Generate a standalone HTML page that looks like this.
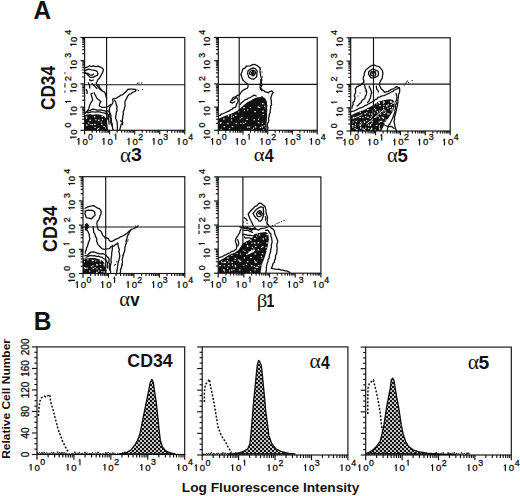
<!DOCTYPE html><html><head><meta charset="utf-8"><style>html,body{margin:0;padding:0;background:#fff;overflow:hidden}svg{display:block}</style></head><body>
<svg width="520" height="496" viewBox="0 0 520 496">
<rect width="520" height="496" fill="#fff"/>
<defs><pattern id="dots" width="4" height="4" patternUnits="userSpaceOnUse"><rect width="4" height="4" fill="#151515"/><circle cx="1" cy="1" r="0.98" fill="#fff"/><circle cx="3" cy="3" r="0.98" fill="#fff"/></pattern></defs>
<clipPath id="clP1"><rect x="84.6" y="37.5" width="100.20000000000002" height="92.80000000000001"/></clipPath>
<g clip-path="url(#clP1)"><path d="M84.60 115.50L87.00 114.60L90.00 114.30L93.00 114.80L96.00 114.20L99.00 114.60L102.00 115.20L104.50 116.50L106.00 118.50L106.80 121.50L107.30 125.00L107.80 128.00L108.30 131.00L84.60 131.00Z" fill="#111" stroke="none"/><rect x="85.7" y="116.4" width="1.5" height="1.2" fill="#fff"/><rect x="93.8" y="116.1" width="1.5" height="1.2" fill="#fff"/><rect x="101.5" y="115.7" width="1.5" height="1.2" fill="#fff"/><rect x="89.4" y="119.7" width="1.5" height="1.2" fill="#fff"/><rect x="98.0" y="119.7" width="1.5" height="1.2" fill="#fff"/><rect x="86.0" y="124.5" width="1.5" height="1.2" fill="#fff"/><rect x="94.2" y="123.8" width="1.5" height="1.2" fill="#fff"/><rect x="101.0" y="123.8" width="1.5" height="1.2" fill="#fff"/><rect x="97.7" y="128.0" width="1.5" height="1.2" fill="#fff"/><rect x="105.4" y="127.5" width="1.5" height="1.2" fill="#fff"/><rect x="86.0" y="117.7" width="1.1" height="1.1" fill="#fff"/><rect x="100.7" y="121.4" width="1.1" height="1.1" fill="#fff"/><rect x="92.0" y="124.0" width="1.1" height="1.1" fill="#fff"/><rect x="95.3" y="119.2" width="1.1" height="1.1" fill="#fff"/><rect x="103.4" y="125.9" width="1.1" height="1.1" fill="#fff"/><rect x="90.4" y="123.9" width="1.1" height="1.1" fill="#fff"/><rect x="97.0" y="128.9" width="1.1" height="1.1" fill="#fff"/><rect x="101.9" y="119.0" width="1.1" height="1.1" fill="#fff"/><rect x="94.5" y="126.9" width="1.1" height="1.1" fill="#fff"/><rect x="88.2" y="122.4" width="1.1" height="1.1" fill="#fff"/><g fill="none" stroke="#111" stroke-linejoin="round" stroke-linecap="round"><path d="M84.59 67.95L87.34 67.07L89.54 65.73L91.48 66.58L93.47 65.86L95.81 66.60L98.18 66.05L99.80 66.88L102.43 68.24L103.39 69.71L102.50 72.65L101.37 74.57L100.50 76.36L99.30 78.44L97.87 79.57L97.00 81.73L96.22 82.95L96.84 85.45L98.79 87.93L99.90 89.22L102.57 91.15L105.01 92.29L105.61 95.06L106.60 98.20" stroke-width="1.3"/><path d="M84.76 70.89L87.18 69.69L88.75 69.23L91.18 69.96L93.81 70.07L95.51 70.51L97.26 71.60L97.96 73.75L97.44 75.37L95.40 76.11L93.04 77.32L90.91 77.31L89.54 76.90L88.56 75.80L87.25 74.29L86.24 73.38L85.00 72.50" stroke-width="1.3"/><path d="M85.57 73.34L88.10 73.48L89.78 74.86L91.88 75.16L93.50 74.20" stroke-width="1.3"/><path d="M89.81 79.44L89.97 80.49L91.43 80.64L93.50 80.00" stroke-width="1.3"/><path d="M88.36 82.79L89.50 85.20L89.80 88.00" stroke-width="1.3"/><path d="M92.07 83.41L93.73 84.98L95.54 87.07L96.90 88.50" stroke-width="1.3"/><path d="M97.03 84.43L99.13 85.48L99.34 86.63L100.00 88.44L101.50 89.50" stroke-width="1.3"/><path d="M92.43 93.25L90.95 94.05L91.98 97.34L92.37 98.78L92.69 100.32L91.52 101.62L91.00 102.68L90.08 104.40L89.28 106.72L88.91 108.45L87.94 110.24L87.01 110.98L85.30 113.00" stroke-width="1.3"/><path d="M94.05 92.75L95.33 95.33L97.01 98.56L99.11 100.08L100.94 101.67L99.73 103.54L99.17 105.55L100.33 106.58L102.41 107.46L104.15 107.47L106.32 107.11L108.41 106.30L110.50 104.60" stroke-width="1.3"/><path d="M86.20 89.70L87.16 91.19L87.00 93.50" stroke-width="1.3"/><path d="M86.86 111.78L87.58 111.19L90.23 110.39L91.57 109.64L93.10 109.16L95.59 109.73L96.92 109.99L98.57 110.17L100.66 109.81L101.88 110.11L103.47 110.68L105.08 110.83L106.87 112.57L108.37 114.96L108.73 117.36L108.73 119.38L108.87 120.70L108.95 121.90L109.00 124.00" stroke-width="1.3"/><path d="M86.95 112.71L88.12 112.90L89.84 112.24L91.90 111.95L93.31 111.88L95.28 112.09L96.65 111.85L98.44 111.77L100.58 112.14L102.06 112.53L105.37 113.15L106.90 115.50L107.16 117.42L107.50 119.00" stroke-width="1.3"/><path d="M107.16 110.53L108.98 111.60L110.38 113.84L110.90 115.03L110.85 117.40L111.21 118.67L110.66 120.95L110.87 122.77L111.50 125.00" stroke-width="1.3"/><path d="M112.12 125.85L112.31 124.16L111.29 122.09L111.24 119.68L110.94 118.52L109.90 116.61L109.61 114.29L109.64 111.80L109.15 109.54L109.71 107.56L110.38 106.14L111.80 104.47L112.60 103.40L113.07 101.85L112.61 99.21L114.01 98.64L116.56 98.17L117.84 97.09L119.24 96.60L120.89 95.07L122.43 94.82L124.19 93.28L124.98 92.43L126.76 90.78L127.78 89.50L129.77 89.13L132.02 89.09L135.42 89.47L135.83 90.92L133.91 91.93L132.36 92.36L131.05 93.83L129.39 94.07L127.72 96.06L126.35 98.90L124.90 101.73L124.93 103.72L125.13 105.61L124.65 107.41L124.26 109.17L123.18 111.96L123.41 114.35L122.72 116.18L122.89 117.75L122.29 119.94L122.50 123.20L121.00 124.81L120.27 128.03L119.71 129.60L119.60 131.00" stroke-width="1.3"/><path d="M114.59 100.22L115.26 101.36L115.90 102.57L116.41 105.02L117.08 106.40L116.68 108.91L117.13 110.65L116.35 112.17L116.11 114.26L115.74 116.15L115.59 118.52L116.93 121.04L117.27 124.42L117.48 125.87L117.35 127.89L117.50 131.00" stroke-width="1.3"/><path d="M112.28 126.00L112.73 129.00L113.50 131.00" stroke-width="1.3"/><path d="M120.55 120.79L122.63 122.41L122.60 124.50" stroke-width="1.3"/><rect x="137.00" y="82.70" width="1.1" height="1.1" fill="#111" stroke="none"/><rect x="138.50" y="82.50" width="1.1" height="1.1" fill="#111" stroke="none"/><rect x="141.00" y="82.40" width="1.1" height="1.1" fill="#111" stroke="none"/><rect x="142.00" y="89.00" width="1.1" height="1.1" fill="#111" stroke="none"/><rect x="138.00" y="90.00" width="1.1" height="1.1" fill="#111" stroke="none"/><rect x="136.50" y="89.30" width="1.1" height="1.1" fill="#111" stroke="none"/></g></g>
<g stroke="#111" stroke-width="1.15" fill="none"><line x1="80.40" y1="130.30" x2="84.60" y2="130.30"/><line x1="82.20" y1="123.32" x2="84.60" y2="123.32"/><line x1="82.20" y1="119.23" x2="84.60" y2="119.23"/><line x1="82.20" y1="116.33" x2="84.60" y2="116.33"/><line x1="82.20" y1="114.08" x2="84.60" y2="114.08"/><line x1="82.20" y1="112.25" x2="84.60" y2="112.25"/><line x1="82.20" y1="110.69" x2="84.60" y2="110.69"/><line x1="82.20" y1="109.35" x2="84.60" y2="109.35"/><line x1="82.20" y1="108.16" x2="84.60" y2="108.16"/><line x1="80.40" y1="107.10" x2="84.60" y2="107.10"/><line x1="82.20" y1="100.12" x2="84.60" y2="100.12"/><line x1="82.20" y1="96.03" x2="84.60" y2="96.03"/><line x1="82.20" y1="93.13" x2="84.60" y2="93.13"/><line x1="82.20" y1="90.88" x2="84.60" y2="90.88"/><line x1="82.20" y1="89.05" x2="84.60" y2="89.05"/><line x1="82.20" y1="87.49" x2="84.60" y2="87.49"/><line x1="82.20" y1="86.15" x2="84.60" y2="86.15"/><line x1="82.20" y1="84.96" x2="84.60" y2="84.96"/><line x1="80.40" y1="83.90" x2="84.60" y2="83.90"/><line x1="82.20" y1="76.92" x2="84.60" y2="76.92"/><line x1="82.20" y1="72.83" x2="84.60" y2="72.83"/><line x1="82.20" y1="69.93" x2="84.60" y2="69.93"/><line x1="82.20" y1="67.68" x2="84.60" y2="67.68"/><line x1="82.20" y1="65.85" x2="84.60" y2="65.85"/><line x1="82.20" y1="64.29" x2="84.60" y2="64.29"/><line x1="82.20" y1="62.95" x2="84.60" y2="62.95"/><line x1="82.20" y1="61.76" x2="84.60" y2="61.76"/><line x1="80.40" y1="60.70" x2="84.60" y2="60.70"/><line x1="82.20" y1="53.72" x2="84.60" y2="53.72"/><line x1="82.20" y1="49.63" x2="84.60" y2="49.63"/><line x1="82.20" y1="46.73" x2="84.60" y2="46.73"/><line x1="82.20" y1="44.48" x2="84.60" y2="44.48"/><line x1="82.20" y1="42.65" x2="84.60" y2="42.65"/><line x1="82.20" y1="41.09" x2="84.60" y2="41.09"/><line x1="82.20" y1="39.75" x2="84.60" y2="39.75"/><line x1="82.20" y1="38.56" x2="84.60" y2="38.56"/><line x1="80.40" y1="37.50" x2="84.60" y2="37.50"/><line x1="84.60" y1="130.30" x2="84.60" y2="134.50"/><line x1="92.14" y1="130.30" x2="92.14" y2="132.70"/><line x1="96.55" y1="130.30" x2="96.55" y2="132.70"/><line x1="99.68" y1="130.30" x2="99.68" y2="132.70"/><line x1="102.11" y1="130.30" x2="102.11" y2="132.70"/><line x1="104.09" y1="130.30" x2="104.09" y2="132.70"/><line x1="105.77" y1="130.30" x2="105.77" y2="132.70"/><line x1="107.22" y1="130.30" x2="107.22" y2="132.70"/><line x1="108.50" y1="130.30" x2="108.50" y2="132.70"/><line x1="109.65" y1="130.30" x2="109.65" y2="134.50"/><line x1="117.19" y1="130.30" x2="117.19" y2="132.70"/><line x1="121.60" y1="130.30" x2="121.60" y2="132.70"/><line x1="124.73" y1="130.30" x2="124.73" y2="132.70"/><line x1="127.16" y1="130.30" x2="127.16" y2="132.70"/><line x1="129.14" y1="130.30" x2="129.14" y2="132.70"/><line x1="130.82" y1="130.30" x2="130.82" y2="132.70"/><line x1="132.27" y1="130.30" x2="132.27" y2="132.70"/><line x1="133.55" y1="130.30" x2="133.55" y2="132.70"/><line x1="134.70" y1="130.30" x2="134.70" y2="134.50"/><line x1="142.24" y1="130.30" x2="142.24" y2="132.70"/><line x1="146.65" y1="130.30" x2="146.65" y2="132.70"/><line x1="149.78" y1="130.30" x2="149.78" y2="132.70"/><line x1="152.21" y1="130.30" x2="152.21" y2="132.70"/><line x1="154.19" y1="130.30" x2="154.19" y2="132.70"/><line x1="155.87" y1="130.30" x2="155.87" y2="132.70"/><line x1="157.32" y1="130.30" x2="157.32" y2="132.70"/><line x1="158.60" y1="130.30" x2="158.60" y2="132.70"/><line x1="159.75" y1="130.30" x2="159.75" y2="134.50"/><line x1="167.29" y1="130.30" x2="167.29" y2="132.70"/><line x1="171.70" y1="130.30" x2="171.70" y2="132.70"/><line x1="174.83" y1="130.30" x2="174.83" y2="132.70"/><line x1="177.26" y1="130.30" x2="177.26" y2="132.70"/><line x1="179.24" y1="130.30" x2="179.24" y2="132.70"/><line x1="180.92" y1="130.30" x2="180.92" y2="132.70"/><line x1="182.37" y1="130.30" x2="182.37" y2="132.70"/><line x1="183.65" y1="130.30" x2="183.65" y2="132.70"/><line x1="184.80" y1="130.30" x2="184.80" y2="134.50"/><rect x="84.60" y="37.50" width="100.20" height="92.80" fill="none"/><line x1="106.60" y1="37.50" x2="106.60" y2="130.30"/><line x1="84.60" y1="84.70" x2="184.80" y2="84.70"/></g>
<g font-family='"Liberation Sans", sans-serif' fill="#111" stroke="#111" stroke-width="0.3"><g transform="translate(84.60,144.70)"><path d="M-5.75 0.00V-6.62" stroke="#111" stroke-width="1.25" fill="none"/><path d="M-5.75 -6.32L-7.38 -4.70" stroke="#111" stroke-width="0.96" fill="none"/><text x="0.45" y="0.00" font-size="9.6" text-anchor="middle">0</text><text x="5.90" y="-5.00" font-size="8.8" text-anchor="middle">0</text></g><g transform="translate(109.65,144.70)"><path d="M-5.75 0.00V-6.62" stroke="#111" stroke-width="1.25" fill="none"/><path d="M-5.75 -6.32L-7.38 -4.70" stroke="#111" stroke-width="0.96" fill="none"/><text x="0.45" y="0.00" font-size="9.6" text-anchor="middle">0</text><path d="M6.15 -5.00V-11.07" stroke="#111" stroke-width="1.14" fill="none"/><path d="M6.15 -10.77L4.65 -9.31" stroke="#111" stroke-width="0.88" fill="none"/></g><g transform="translate(134.70,144.70)"><path d="M-5.75 0.00V-6.62" stroke="#111" stroke-width="1.25" fill="none"/><path d="M-5.75 -6.32L-7.38 -4.70" stroke="#111" stroke-width="0.96" fill="none"/><text x="0.45" y="0.00" font-size="9.6" text-anchor="middle">0</text><text x="5.90" y="-5.00" font-size="8.8" text-anchor="middle">2</text></g><g transform="translate(159.75,144.70)"><path d="M-5.75 0.00V-6.62" stroke="#111" stroke-width="1.25" fill="none"/><path d="M-5.75 -6.32L-7.38 -4.70" stroke="#111" stroke-width="0.96" fill="none"/><text x="0.45" y="0.00" font-size="9.6" text-anchor="middle">0</text><text x="5.90" y="-5.00" font-size="8.8" text-anchor="middle">3</text></g><g transform="translate(184.80,144.70)"><path d="M-5.75 0.00V-6.62" stroke="#111" stroke-width="1.25" fill="none"/><path d="M-5.75 -6.32L-7.38 -4.70" stroke="#111" stroke-width="0.96" fill="none"/><text x="0.45" y="0.00" font-size="9.6" text-anchor="middle">0</text><text x="5.90" y="-5.00" font-size="8.8" text-anchor="middle">4</text></g></g>
<g font-family='"Liberation Sans", sans-serif' fill="#111" stroke="#111" stroke-width="0.3"><g transform="translate(76.60,130.30) rotate(-90)"><path d="M-6.85 0.00V-6.62" stroke="#111" stroke-width="1.25" fill="none"/><path d="M-6.85 -6.32L-8.48 -4.70" stroke="#111" stroke-width="0.96" fill="none"/><text x="-1.80" y="0.00" font-size="9.6" text-anchor="middle">0</text><text x="5.30" y="-5.40" font-size="8.8" text-anchor="middle">0</text></g><g transform="translate(76.60,107.10) rotate(-90)"><path d="M-6.85 0.00V-6.62" stroke="#111" stroke-width="1.25" fill="none"/><path d="M-6.85 -6.32L-8.48 -4.70" stroke="#111" stroke-width="0.96" fill="none"/><text x="-1.80" y="0.00" font-size="9.6" text-anchor="middle">0</text><path d="M5.55 -5.40V-11.47" stroke="#111" stroke-width="1.14" fill="none"/><path d="M5.55 -11.17L4.05 -9.71" stroke="#111" stroke-width="0.88" fill="none"/></g><g transform="translate(76.60,83.90) rotate(-90)"><path d="M-6.85 0.00V-6.62" stroke="#111" stroke-width="1.25" fill="none"/><path d="M-6.85 -6.32L-8.48 -4.70" stroke="#111" stroke-width="0.96" fill="none"/><text x="-1.80" y="0.00" font-size="9.6" text-anchor="middle">0</text><text x="5.30" y="-5.40" font-size="8.8" text-anchor="middle">2</text></g><g transform="translate(76.60,60.70) rotate(-90)"><path d="M-6.85 0.00V-6.62" stroke="#111" stroke-width="1.25" fill="none"/><path d="M-6.85 -6.32L-8.48 -4.70" stroke="#111" stroke-width="0.96" fill="none"/><text x="-1.80" y="0.00" font-size="9.6" text-anchor="middle">0</text><text x="5.30" y="-5.40" font-size="8.8" text-anchor="middle">3</text></g><g transform="translate(76.60,37.50) rotate(-90)"><path d="M-6.85 0.00V-6.62" stroke="#111" stroke-width="1.25" fill="none"/><path d="M-6.85 -6.32L-8.48 -4.70" stroke="#111" stroke-width="0.96" fill="none"/><text x="-1.80" y="0.00" font-size="9.6" text-anchor="middle">0</text><text x="5.30" y="-5.40" font-size="8.8" text-anchor="middle">4</text></g></g>
<clipPath id="clP2"><rect x="218.3" y="37.5" width="98.89999999999998" height="92.80000000000001"/></clipPath>
<g clip-path="url(#clP2)"><path d="M218.20 118.50L219.60 118.20L224.70 116.10L229.10 114.60L233.40 112.80L237.80 110.60L240.70 108.10L243.60 105.20L247.20 102.30L251.00 100.40L253.00 98.90L256.50 97.60L261.30 97.10L265.10 98.50L266.60 102.50L267.00 109.20L267.20 115.00L266.80 120.80L266.00 126.50L266.50 131.30L218.20 131.30Z" fill="#111" stroke="none"/><rect x="262.1" y="103.0" width="1.5" height="1.2" fill="#fff"/><rect x="243.3" y="107.1" width="1.5" height="1.2" fill="#fff"/><rect x="257.6" y="106.5" width="1.5" height="1.2" fill="#fff"/><rect x="265.4" y="107.2" width="1.5" height="1.2" fill="#fff"/><rect x="238.4" y="111.1" width="1.5" height="1.2" fill="#fff"/><rect x="254.4" y="111.0" width="1.5" height="1.2" fill="#fff"/><rect x="262.3" y="110.6" width="1.5" height="1.2" fill="#fff"/><rect x="227.7" y="115.2" width="1.5" height="1.2" fill="#fff"/><rect x="235.0" y="114.7" width="1.5" height="1.2" fill="#fff"/><rect x="223.1" y="118.4" width="1.5" height="1.2" fill="#fff"/><rect x="239.0" y="118.1" width="1.5" height="1.2" fill="#fff"/><rect x="246.4" y="118.8" width="1.5" height="1.2" fill="#fff"/><rect x="219.7" y="122.5" width="1.5" height="1.2" fill="#fff"/><rect x="226.9" y="122.9" width="1.5" height="1.2" fill="#fff"/><rect x="235.7" y="122.9" width="1.5" height="1.2" fill="#fff"/><rect x="242.8" y="122.8" width="1.5" height="1.2" fill="#fff"/><rect x="257.9" y="122.2" width="1.5" height="1.2" fill="#fff"/><rect x="223.6" y="126.0" width="1.5" height="1.2" fill="#fff"/><rect x="231.8" y="126.0" width="1.5" height="1.2" fill="#fff"/><rect x="247.1" y="126.6" width="1.5" height="1.2" fill="#fff"/><rect x="254.8" y="126.4" width="1.5" height="1.2" fill="#fff"/><rect x="261.5" y="126.4" width="1.5" height="1.2" fill="#fff"/><rect x="219.5" y="129.9" width="1.5" height="1.2" fill="#fff"/><rect x="247.1" y="109.4" width="1.1" height="1.1" fill="#fff"/><rect x="259.1" y="106.9" width="1.1" height="1.1" fill="#fff"/><rect x="264.0" y="105.6" width="1.1" height="1.1" fill="#fff"/><rect x="231.2" y="114.6" width="1.1" height="1.1" fill="#fff"/><rect x="265.1" y="127.3" width="1.1" height="1.1" fill="#fff"/><rect x="258.0" y="118.7" width="1.1" height="1.1" fill="#fff"/><rect x="263.0" y="129.3" width="1.1" height="1.1" fill="#fff"/><rect x="245.1" y="121.7" width="1.1" height="1.1" fill="#fff"/><rect x="220.6" y="122.1" width="1.1" height="1.1" fill="#fff"/><rect x="240.3" y="122.8" width="1.1" height="1.1" fill="#fff"/><rect x="249.8" y="106.9" width="1.1" height="1.1" fill="#fff"/><rect x="220.6" y="128.8" width="1.1" height="1.1" fill="#fff"/><rect x="254.4" y="130.5" width="1.1" height="1.1" fill="#fff"/><rect x="230.9" y="119.5" width="1.1" height="1.1" fill="#fff"/><rect x="232.9" y="116.2" width="1.1" height="1.1" fill="#fff"/><rect x="262.6" y="114.1" width="1.1" height="1.1" fill="#fff"/><rect x="229.0" y="128.1" width="1.1" height="1.1" fill="#fff"/><rect x="267.0" y="112.5" width="1.1" height="1.1" fill="#fff"/><rect x="230.9" y="116.6" width="1.1" height="1.1" fill="#fff"/><rect x="261.7" y="122.7" width="1.1" height="1.1" fill="#fff"/><rect x="238.4" y="111.3" width="1.1" height="1.1" fill="#fff"/><rect x="243.9" y="110.0" width="1.1" height="1.1" fill="#fff"/><rect x="231.8" y="130.2" width="1.1" height="1.1" fill="#fff"/><rect x="249.1" y="126.6" width="1.1" height="1.1" fill="#fff"/><rect x="240.0" y="129.7" width="1.1" height="1.1" fill="#fff"/><rect x="259.8" y="127.0" width="1.1" height="1.1" fill="#fff"/><rect x="253.0" y="127.7" width="1.1" height="1.1" fill="#fff"/><rect x="241.4" y="117.2" width="1.1" height="1.1" fill="#fff"/><rect x="263.6" y="125.3" width="1.1" height="1.1" fill="#fff"/><rect x="260.1" y="130.4" width="1.1" height="1.1" fill="#fff"/><rect x="251.6" y="129.3" width="1.1" height="1.1" fill="#fff"/><rect x="253.6" y="119.2" width="1.1" height="1.1" fill="#fff"/><g fill="none" stroke="#111" stroke-linejoin="round" stroke-linecap="round"><path d="M260.62 79.58L260.82 81.12L261.41 83.22L261.92 85.52L260.44 87.59L262.01 89.66L264.02 90.80L265.00 91.75L267.00 92.21L268.21 92.97L269.75 91.55L271.89 90.99L273.21 92.65L272.36 93.61L271.46 95.80L271.18 96.75L270.72 98.84L271.46 100.70L271.24 102.84L271.61 104.37L270.58 106.39L270.70 108.62L270.11 110.65L270.21 112.31L269.35 114.65L269.06 116.44L268.60 117.82L268.70 119.81L268.48 121.92L267.41 123.60L267.23 125.92L267.90 127.37L267.60 129.35L267.88 131.54" stroke-width="1.3"/><path d="M261.96 96.60L262.87 97.68L264.90 99.59L265.81 100.98L266.37 102.70L266.23 103.56L266.93 105.99L266.27 107.84L266.74 109.50L266.46 111.24L265.94 113.26L266.02 115.79L265.51 117.72L265.27 119.10L265.52 121.44L265.32 122.67L265.51 124.88L266.07 126.64L265.80 129.59L266.15 131.54" stroke-width="1.3"/><path d="M218.18 115.82L220.45 115.31L221.32 113.81L222.91 113.78L225.23 112.72L227.96 111.46L228.86 111.25L230.64 109.85L232.19 109.13L233.25 107.75L235.13 107.47L236.12 106.05L236.67 103.96L237.43 102.91L238.21 100.70L236.88 97.84L235.59 96.89L233.21 97.27L232.01 99.29L230.60 101.50" stroke-width="1.3"/><path d="M240.17 104.52L241.40 102.72L243.07 101.60L244.64 100.11L247.07 99.20L248.19 98.14L250.36 97.54L252.28 96.31L254.21 95.08L256.08 95.96" stroke-width="1.3"/><path d="M238.13 95.64L240.00 94.19L241.45 91.76L243.43 90.11L245.06 89.02L247.31 88.25L247.96 87.01L248.11 84.76L246.89 83.51L244.63 81.67L242.67 79.59L241.85 77.17L240.94 74.31L241.94 71.71L242.66 69.18L245.04 67.94L246.64 66.18L249.99 65.81L252.77 64.69L255.01 64.46L256.92 65.53L259.37 67.29L260.19 69.23L259.95 71.48L260.55 74.80L261.05 77.19L261.81 79.65L261.28 81.58L260.43 83.78L260.09 86.84L260.43 89.06L262.00 90.80" stroke-width="1.3"/><path d="M247.54 73.86L248.02 70.83L250.13 69.17L253.14 67.81L255.54 68.81L257.25 71.13L256.83 73.40L256.78 76.32L255.00 78.33L253.51 79.33L251.16 78.67L248.92 77.43L248.15 74.98L247.70 73.70Z" stroke-width="1.3"/><path d="M249.43 73.91L250.13 71.26L252.76 70.23L254.79 70.92L255.84 72.96L254.50 74.66L253.15 75.93L251.47 75.03L249.70 73.70Z" stroke-width="1.3"/><path d="M251.71 72.48L253.00 71.28L254.00 72.62L253.88 73.65L252.19 74.27L251.60 72.60Z" stroke-width="1.6"/><rect x="244.00" y="68.00" width="1.1" height="1.1" fill="#111" stroke="none"/><rect x="245.50" y="65.50" width="1.1" height="1.1" fill="#111" stroke="none"/><rect x="257.50" y="65.50" width="1.1" height="1.1" fill="#111" stroke="none"/><rect x="260.00" y="67.50" width="1.1" height="1.1" fill="#111" stroke="none"/><rect x="261.50" y="71.50" width="1.1" height="1.1" fill="#111" stroke="none"/><rect x="262.00" y="76.50" width="1.1" height="1.1" fill="#111" stroke="none"/><rect x="242.50" y="80.00" width="1.1" height="1.1" fill="#111" stroke="none"/><rect x="240.50" y="74.50" width="1.1" height="1.1" fill="#111" stroke="none"/><path d="M232.20 100.67L232.98 99.81L235.58 97.86L235.97 96.42L237.60 95.12" stroke-width="1.3"/><path d="M230.15 102.07L232.66 103.07L234.54 101.71" stroke-width="1.3"/></g></g>
<g stroke="#111" stroke-width="1.15" fill="none"><line x1="214.10" y1="130.30" x2="218.30" y2="130.30"/><line x1="215.90" y1="123.32" x2="218.30" y2="123.32"/><line x1="215.90" y1="119.23" x2="218.30" y2="119.23"/><line x1="215.90" y1="116.33" x2="218.30" y2="116.33"/><line x1="215.90" y1="114.08" x2="218.30" y2="114.08"/><line x1="215.90" y1="112.25" x2="218.30" y2="112.25"/><line x1="215.90" y1="110.69" x2="218.30" y2="110.69"/><line x1="215.90" y1="109.35" x2="218.30" y2="109.35"/><line x1="215.90" y1="108.16" x2="218.30" y2="108.16"/><line x1="214.10" y1="107.10" x2="218.30" y2="107.10"/><line x1="215.90" y1="100.12" x2="218.30" y2="100.12"/><line x1="215.90" y1="96.03" x2="218.30" y2="96.03"/><line x1="215.90" y1="93.13" x2="218.30" y2="93.13"/><line x1="215.90" y1="90.88" x2="218.30" y2="90.88"/><line x1="215.90" y1="89.05" x2="218.30" y2="89.05"/><line x1="215.90" y1="87.49" x2="218.30" y2="87.49"/><line x1="215.90" y1="86.15" x2="218.30" y2="86.15"/><line x1="215.90" y1="84.96" x2="218.30" y2="84.96"/><line x1="214.10" y1="83.90" x2="218.30" y2="83.90"/><line x1="215.90" y1="76.92" x2="218.30" y2="76.92"/><line x1="215.90" y1="72.83" x2="218.30" y2="72.83"/><line x1="215.90" y1="69.93" x2="218.30" y2="69.93"/><line x1="215.90" y1="67.68" x2="218.30" y2="67.68"/><line x1="215.90" y1="65.85" x2="218.30" y2="65.85"/><line x1="215.90" y1="64.29" x2="218.30" y2="64.29"/><line x1="215.90" y1="62.95" x2="218.30" y2="62.95"/><line x1="215.90" y1="61.76" x2="218.30" y2="61.76"/><line x1="214.10" y1="60.70" x2="218.30" y2="60.70"/><line x1="215.90" y1="53.72" x2="218.30" y2="53.72"/><line x1="215.90" y1="49.63" x2="218.30" y2="49.63"/><line x1="215.90" y1="46.73" x2="218.30" y2="46.73"/><line x1="215.90" y1="44.48" x2="218.30" y2="44.48"/><line x1="215.90" y1="42.65" x2="218.30" y2="42.65"/><line x1="215.90" y1="41.09" x2="218.30" y2="41.09"/><line x1="215.90" y1="39.75" x2="218.30" y2="39.75"/><line x1="215.90" y1="38.56" x2="218.30" y2="38.56"/><line x1="214.10" y1="37.50" x2="218.30" y2="37.50"/><line x1="218.30" y1="130.30" x2="218.30" y2="134.50"/><line x1="225.74" y1="130.30" x2="225.74" y2="132.70"/><line x1="230.10" y1="130.30" x2="230.10" y2="132.70"/><line x1="233.19" y1="130.30" x2="233.19" y2="132.70"/><line x1="235.58" y1="130.30" x2="235.58" y2="132.70"/><line x1="237.54" y1="130.30" x2="237.54" y2="132.70"/><line x1="239.20" y1="130.30" x2="239.20" y2="132.70"/><line x1="240.63" y1="130.30" x2="240.63" y2="132.70"/><line x1="241.89" y1="130.30" x2="241.89" y2="132.70"/><line x1="243.03" y1="130.30" x2="243.03" y2="134.50"/><line x1="250.47" y1="130.30" x2="250.47" y2="132.70"/><line x1="254.82" y1="130.30" x2="254.82" y2="132.70"/><line x1="257.91" y1="130.30" x2="257.91" y2="132.70"/><line x1="260.31" y1="130.30" x2="260.31" y2="132.70"/><line x1="262.26" y1="130.30" x2="262.26" y2="132.70"/><line x1="263.92" y1="130.30" x2="263.92" y2="132.70"/><line x1="265.35" y1="130.30" x2="265.35" y2="132.70"/><line x1="266.62" y1="130.30" x2="266.62" y2="132.70"/><line x1="267.75" y1="130.30" x2="267.75" y2="134.50"/><line x1="275.19" y1="130.30" x2="275.19" y2="132.70"/><line x1="279.55" y1="130.30" x2="279.55" y2="132.70"/><line x1="282.64" y1="130.30" x2="282.64" y2="132.70"/><line x1="285.03" y1="130.30" x2="285.03" y2="132.70"/><line x1="286.99" y1="130.30" x2="286.99" y2="132.70"/><line x1="288.65" y1="130.30" x2="288.65" y2="132.70"/><line x1="290.08" y1="130.30" x2="290.08" y2="132.70"/><line x1="291.34" y1="130.30" x2="291.34" y2="132.70"/><line x1="292.48" y1="130.30" x2="292.48" y2="134.50"/><line x1="299.92" y1="130.30" x2="299.92" y2="132.70"/><line x1="304.27" y1="130.30" x2="304.27" y2="132.70"/><line x1="307.36" y1="130.30" x2="307.36" y2="132.70"/><line x1="309.76" y1="130.30" x2="309.76" y2="132.70"/><line x1="311.71" y1="130.30" x2="311.71" y2="132.70"/><line x1="313.37" y1="130.30" x2="313.37" y2="132.70"/><line x1="314.80" y1="130.30" x2="314.80" y2="132.70"/><line x1="316.07" y1="130.30" x2="316.07" y2="132.70"/><line x1="317.20" y1="130.30" x2="317.20" y2="134.50"/><rect x="218.30" y="37.50" width="98.90" height="92.80" fill="none"/><line x1="239.20" y1="37.50" x2="239.20" y2="130.30"/><line x1="218.30" y1="84.40" x2="317.20" y2="84.40"/></g>
<g font-family='"Liberation Sans", sans-serif' fill="#111" stroke="#111" stroke-width="0.3"><g transform="translate(218.30,144.70)"><path d="M-5.75 0.00V-6.62" stroke="#111" stroke-width="1.25" fill="none"/><path d="M-5.75 -6.32L-7.38 -4.70" stroke="#111" stroke-width="0.96" fill="none"/><text x="0.45" y="0.00" font-size="9.6" text-anchor="middle">0</text><text x="5.90" y="-5.00" font-size="8.8" text-anchor="middle">0</text></g><g transform="translate(243.03,144.70)"><path d="M-5.75 0.00V-6.62" stroke="#111" stroke-width="1.25" fill="none"/><path d="M-5.75 -6.32L-7.38 -4.70" stroke="#111" stroke-width="0.96" fill="none"/><text x="0.45" y="0.00" font-size="9.6" text-anchor="middle">0</text><path d="M6.15 -5.00V-11.07" stroke="#111" stroke-width="1.14" fill="none"/><path d="M6.15 -10.77L4.65 -9.31" stroke="#111" stroke-width="0.88" fill="none"/></g><g transform="translate(267.75,144.70)"><path d="M-5.75 0.00V-6.62" stroke="#111" stroke-width="1.25" fill="none"/><path d="M-5.75 -6.32L-7.38 -4.70" stroke="#111" stroke-width="0.96" fill="none"/><text x="0.45" y="0.00" font-size="9.6" text-anchor="middle">0</text><text x="5.90" y="-5.00" font-size="8.8" text-anchor="middle">2</text></g><g transform="translate(292.48,144.70)"><path d="M-5.75 0.00V-6.62" stroke="#111" stroke-width="1.25" fill="none"/><path d="M-5.75 -6.32L-7.38 -4.70" stroke="#111" stroke-width="0.96" fill="none"/><text x="0.45" y="0.00" font-size="9.6" text-anchor="middle">0</text><text x="5.90" y="-5.00" font-size="8.8" text-anchor="middle">3</text></g><g transform="translate(317.20,144.70)"><path d="M-5.75 0.00V-6.62" stroke="#111" stroke-width="1.25" fill="none"/><path d="M-5.75 -6.32L-7.38 -4.70" stroke="#111" stroke-width="0.96" fill="none"/><text x="0.45" y="0.00" font-size="9.6" text-anchor="middle">0</text><text x="5.90" y="-5.00" font-size="8.8" text-anchor="middle">4</text></g></g>
<g font-family='"Liberation Sans", sans-serif' fill="#111" stroke="#111" stroke-width="0.3"><g transform="translate(210.30,130.30) rotate(-90)"><path d="M-6.85 0.00V-6.62" stroke="#111" stroke-width="1.25" fill="none"/><path d="M-6.85 -6.32L-8.48 -4.70" stroke="#111" stroke-width="0.96" fill="none"/><text x="-1.80" y="0.00" font-size="9.6" text-anchor="middle">0</text><text x="5.30" y="-5.40" font-size="8.8" text-anchor="middle">0</text></g><g transform="translate(210.30,107.10) rotate(-90)"><path d="M-6.85 0.00V-6.62" stroke="#111" stroke-width="1.25" fill="none"/><path d="M-6.85 -6.32L-8.48 -4.70" stroke="#111" stroke-width="0.96" fill="none"/><text x="-1.80" y="0.00" font-size="9.6" text-anchor="middle">0</text><path d="M5.55 -5.40V-11.47" stroke="#111" stroke-width="1.14" fill="none"/><path d="M5.55 -11.17L4.05 -9.71" stroke="#111" stroke-width="0.88" fill="none"/></g><g transform="translate(210.30,83.90) rotate(-90)"><path d="M-6.85 0.00V-6.62" stroke="#111" stroke-width="1.25" fill="none"/><path d="M-6.85 -6.32L-8.48 -4.70" stroke="#111" stroke-width="0.96" fill="none"/><text x="-1.80" y="0.00" font-size="9.6" text-anchor="middle">0</text><text x="5.30" y="-5.40" font-size="8.8" text-anchor="middle">2</text></g><g transform="translate(210.30,60.70) rotate(-90)"><path d="M-6.85 0.00V-6.62" stroke="#111" stroke-width="1.25" fill="none"/><path d="M-6.85 -6.32L-8.48 -4.70" stroke="#111" stroke-width="0.96" fill="none"/><text x="-1.80" y="0.00" font-size="9.6" text-anchor="middle">0</text><text x="5.30" y="-5.40" font-size="8.8" text-anchor="middle">3</text></g><g transform="translate(210.30,37.50) rotate(-90)"><path d="M-6.85 0.00V-6.62" stroke="#111" stroke-width="1.25" fill="none"/><path d="M-6.85 -6.32L-8.48 -4.70" stroke="#111" stroke-width="0.96" fill="none"/><text x="-1.80" y="0.00" font-size="9.6" text-anchor="middle">0</text><text x="5.30" y="-5.40" font-size="8.8" text-anchor="middle">4</text></g></g>
<clipPath id="clP3"><rect x="350.7" y="37.8" width="99.5" height="93.2"/></clipPath>
<g clip-path="url(#clP3)"><path d="M350.70 115.50L351.90 115.00L355.80 113.10L359.60 111.60L363.50 110.20L367.30 108.30L371.20 106.30L374.00 104.70L377.90 101.80L381.90 100.80L385.80 99.80L389.80 99.30L392.80 99.80L394.20 101.80L394.70 104.70L394.20 107.70L392.80 111.60L390.80 114.60L388.80 117.60L386.80 120.50L384.80 123.50L383.40 126.50L381.90 129.40L381.50 131.50L350.70 131.50Z" fill="#111" stroke="none"/><rect x="383.3" y="101.7" width="1.5" height="1.2" fill="#fff"/><rect x="390.8" y="101.6" width="1.5" height="1.2" fill="#fff"/><rect x="379.3" y="105.1" width="1.5" height="1.2" fill="#fff"/><rect x="386.3" y="105.3" width="1.5" height="1.2" fill="#fff"/><rect x="367.1" y="109.0" width="1.5" height="1.2" fill="#fff"/><rect x="374.7" y="109.2" width="1.5" height="1.2" fill="#fff"/><rect x="383.3" y="109.4" width="1.5" height="1.2" fill="#fff"/><rect x="390.2" y="109.1" width="1.5" height="1.2" fill="#fff"/><rect x="364.3" y="113.2" width="1.5" height="1.2" fill="#fff"/><rect x="371.1" y="113.5" width="1.5" height="1.2" fill="#fff"/><rect x="379.7" y="113.4" width="1.5" height="1.2" fill="#fff"/><rect x="387.2" y="113.4" width="1.5" height="1.2" fill="#fff"/><rect x="352.7" y="116.7" width="1.5" height="1.2" fill="#fff"/><rect x="359.5" y="116.9" width="1.5" height="1.2" fill="#fff"/><rect x="367.2" y="116.7" width="1.5" height="1.2" fill="#fff"/><rect x="375.1" y="116.4" width="1.5" height="1.2" fill="#fff"/><rect x="382.6" y="117.3" width="1.5" height="1.2" fill="#fff"/><rect x="355.6" y="120.8" width="1.5" height="1.2" fill="#fff"/><rect x="363.6" y="121.2" width="1.5" height="1.2" fill="#fff"/><rect x="371.5" y="121.2" width="1.5" height="1.2" fill="#fff"/><rect x="379.7" y="120.9" width="1.5" height="1.2" fill="#fff"/><rect x="352.0" y="125.0" width="1.5" height="1.2" fill="#fff"/><rect x="359.5" y="124.9" width="1.5" height="1.2" fill="#fff"/><rect x="368.0" y="124.5" width="1.5" height="1.2" fill="#fff"/><rect x="375.9" y="124.8" width="1.5" height="1.2" fill="#fff"/><rect x="356.1" y="129.0" width="1.5" height="1.2" fill="#fff"/><rect x="363.4" y="128.8" width="1.5" height="1.2" fill="#fff"/><rect x="370.9" y="128.5" width="1.5" height="1.2" fill="#fff"/><rect x="379.0" y="128.3" width="1.5" height="1.2" fill="#fff"/><rect x="391.9" y="107.1" width="1.1" height="1.1" fill="#fff"/><rect x="378.8" y="127.4" width="1.1" height="1.1" fill="#fff"/><rect x="385.1" y="112.2" width="1.1" height="1.1" fill="#fff"/><rect x="379.1" y="117.4" width="1.1" height="1.1" fill="#fff"/><rect x="366.1" y="120.1" width="1.1" height="1.1" fill="#fff"/><rect x="370.2" y="129.5" width="1.1" height="1.1" fill="#fff"/><rect x="383.0" y="107.3" width="1.1" height="1.1" fill="#fff"/><rect x="390.5" y="100.7" width="1.1" height="1.1" fill="#fff"/><rect x="374.1" y="112.4" width="1.1" height="1.1" fill="#fff"/><rect x="374.9" y="129.6" width="1.1" height="1.1" fill="#fff"/><rect x="377.5" y="115.6" width="1.1" height="1.1" fill="#fff"/><rect x="378.9" y="125.5" width="1.1" height="1.1" fill="#fff"/><rect x="371.2" y="123.2" width="1.1" height="1.1" fill="#fff"/><rect x="383.7" y="121.7" width="1.1" height="1.1" fill="#fff"/><rect x="362.4" y="117.1" width="1.1" height="1.1" fill="#fff"/><rect x="369.9" y="124.7" width="1.1" height="1.1" fill="#fff"/><rect x="373.7" y="107.8" width="1.1" height="1.1" fill="#fff"/><rect x="378.9" y="130.4" width="1.1" height="1.1" fill="#fff"/><rect x="360.2" y="127.6" width="1.1" height="1.1" fill="#fff"/><rect x="361.1" y="123.3" width="1.1" height="1.1" fill="#fff"/><rect x="365.1" y="127.6" width="1.1" height="1.1" fill="#fff"/><rect x="381.2" y="120.7" width="1.1" height="1.1" fill="#fff"/><rect x="388.4" y="113.4" width="1.1" height="1.1" fill="#fff"/><rect x="382.6" y="117.7" width="1.1" height="1.1" fill="#fff"/><rect x="378.1" y="101.8" width="1.1" height="1.1" fill="#fff"/><rect x="390.8" y="104.0" width="1.1" height="1.1" fill="#fff"/><rect x="391.6" y="110.4" width="1.1" height="1.1" fill="#fff"/><rect x="352.5" y="121.6" width="1.1" height="1.1" fill="#fff"/><rect x="378.6" y="121.7" width="1.1" height="1.1" fill="#fff"/><rect x="383.1" y="101.4" width="1.1" height="1.1" fill="#fff"/><rect x="376.7" y="111.0" width="1.1" height="1.1" fill="#fff"/><rect x="389.9" y="101.4" width="1.1" height="1.1" fill="#fff"/><rect x="392.3" y="102.7" width="1.1" height="1.1" fill="#fff"/><rect x="352.2" y="126.6" width="1.1" height="1.1" fill="#fff"/><rect x="386.4" y="119.7" width="1.1" height="1.1" fill="#fff"/><rect x="387.0" y="119.6" width="1.1" height="1.1" fill="#fff"/><rect x="355.0" y="123.7" width="1.1" height="1.1" fill="#fff"/><rect x="382.2" y="111.2" width="1.1" height="1.1" fill="#fff"/><rect x="364.8" y="130.3" width="1.1" height="1.1" fill="#fff"/><rect x="372.9" y="126.7" width="1.1" height="1.1" fill="#fff"/><rect x="368.9" y="113.4" width="1.1" height="1.1" fill="#fff"/><rect x="384.7" y="110.5" width="1.1" height="1.1" fill="#fff"/><rect x="381.7" y="116.6" width="1.1" height="1.1" fill="#fff"/><rect x="360.2" y="127.1" width="1.1" height="1.1" fill="#fff"/><rect x="354.7" y="125.7" width="1.1" height="1.1" fill="#fff"/><rect x="359.6" y="123.8" width="1.1" height="1.1" fill="#fff"/><rect x="372.3" y="115.1" width="1.1" height="1.1" fill="#fff"/><rect x="385.8" y="105.2" width="1.1" height="1.1" fill="#fff"/><rect x="372.5" y="110.5" width="1.1" height="1.1" fill="#fff"/><rect x="387.3" y="107.7" width="1.1" height="1.1" fill="#fff"/><rect x="392.2" y="108.4" width="1.1" height="1.1" fill="#fff"/><rect x="360.1" y="121.8" width="1.1" height="1.1" fill="#fff"/><rect x="378.7" y="101.9" width="1.1" height="1.1" fill="#fff"/><rect x="385.4" y="121.7" width="1.1" height="1.1" fill="#fff"/><rect x="385.3" y="119.5" width="1.1" height="1.1" fill="#fff"/><rect x="366.3" y="112.2" width="1.1" height="1.1" fill="#fff"/><rect x="368.1" y="128.0" width="1.1" height="1.1" fill="#fff"/><rect x="354.5" y="127.9" width="1.1" height="1.1" fill="#fff"/><rect x="362.3" y="128.3" width="1.1" height="1.1" fill="#fff"/><rect x="372.8" y="111.5" width="1.1" height="1.1" fill="#fff"/><rect x="389.6" y="106.8" width="1.1" height="1.1" fill="#fff"/><rect x="371.0" y="116.4" width="1.1" height="1.1" fill="#fff"/><rect x="383.9" y="123.5" width="1.1" height="1.1" fill="#fff"/><rect x="379.1" y="110.5" width="1.1" height="1.1" fill="#fff"/><rect x="383.3" y="104.8" width="1.1" height="1.1" fill="#fff"/><rect x="370.0" y="124.2" width="1.1" height="1.1" fill="#fff"/><rect x="376.2" y="103.4" width="1.1" height="1.1" fill="#fff"/><rect x="371.0" y="127.8" width="1.1" height="1.1" fill="#fff"/><rect x="364.0" y="121.9" width="1.1" height="1.1" fill="#fff"/><rect x="387.8" y="104.3" width="1.1" height="1.1" fill="#fff"/><rect x="365.1" y="116.1" width="1.1" height="1.1" fill="#fff"/><rect x="359.0" y="130.7" width="1.1" height="1.1" fill="#fff"/><rect x="382.8" y="102.6" width="1.1" height="1.1" fill="#fff"/><rect x="393.0" y="102.6" width="1.1" height="1.1" fill="#fff"/><rect x="367.6" y="131.0" width="1.1" height="1.1" fill="#fff"/><rect x="378.8" y="102.7" width="1.1" height="1.1" fill="#fff"/><rect x="359.8" y="111.8" width="1.1" height="1.1" fill="#fff"/><rect x="385.5" y="121.6" width="1.1" height="1.1" fill="#fff"/><rect x="372.7" y="119.7" width="1.1" height="1.1" fill="#fff"/><rect x="377.3" y="112.3" width="1.1" height="1.1" fill="#fff"/><rect x="369.6" y="117.8" width="1.1" height="1.1" fill="#fff"/><rect x="383.7" y="112.9" width="1.1" height="1.1" fill="#fff"/><path d="M366.60 123.90L370.00 121.50L374.00 118.00L378.00 114.50L383.20 110.00" fill="none" stroke="#fff" stroke-width="0.8" stroke-linecap="round"/><path d="M353.00 118.50L358.00 116.50L362.00 114.50" fill="none" stroke="#fff" stroke-width="0.8" stroke-linecap="round"/><g fill="none" stroke="#111" stroke-linejoin="round" stroke-linecap="round"><path d="M350.76 111.70L353.34 111.10L355.18 110.52L356.83 109.69L358.29 108.77L360.12 107.94L361.59 107.72L363.53 106.75L364.78 105.73L366.46 105.08L367.92 104.29L369.89 103.01L371.14 102.72L372.40 101.62L374.43 100.38L375.34 99.49L376.85 99.20L377.92 97.44L379.97 96.84L382.10 95.81L383.98 95.60L385.82 94.72L388.20 93.59L389.97 92.80L391.54 91.81L393.24 91.27L393.85 90.45L395.61 89.46L397.63 88.83L399.20 87.60" stroke-width="1.3"/><path d="M394.88 87.77L396.49 86.65L399.42 87.80L399.72 89.65L399.47 92.80L398.44 94.52L398.45 97.08L398.07 98.77L397.76 100.55L397.95 102.30L397.49 104.35L397.48 105.67L396.76 107.74L396.36 110.00L396.07 111.97L395.49 113.49L394.98 115.53L394.42 117.15L394.65 119.35L393.97 121.32L394.43 123.44L394.82 125.64L395.58 128.79L396.50 131.00" stroke-width="1.3"/><path d="M396.02 93.50L397.00 97.17L396.79 98.14L396.66 100.25L395.76 101.36L396.44 103.57L395.64 104.71L395.38 106.46L395.62 108.20L394.72 110.33L394.96 111.30L394.30 113.70L393.45 115.75L392.85 117.81L392.10 119.23L391.22 121.03L390.52 122.44L389.89 124.05L388.59 125.26L387.48 128.39L387.50 131.00" stroke-width="1.3"/><path d="M384.60 124.97L386.18 125.74L388.00 126.54L390.33 126.31L392.31 126.97L394.00 128.50" stroke-width="1.3"/><path d="M363.76 82.35L363.81 80.44L363.23 79.31L363.32 77.42L364.22 75.28L364.20 74.26L364.49 72.35L365.73 70.11L367.29 68.86L369.38 67.00L371.91 65.45L374.53 65.08L376.58 66.02L379.24 66.54L380.54 68.43L382.35 70.39L382.91 72.79L382.81 74.10L382.49 75.71L382.33 78.24L380.86 80.35L379.64 82.82L379.48 85.52L380.16 86.59L381.10 88.80L381.94 89.49L383.17 90.46L384.52 92.28L386.50 91.59L388.26 91.37L389.60 90.36L391.11 89.68L394.00 88.50" stroke-width="1.3"/><path d="M368.59 74.26L368.74 71.85L370.56 70.34L372.64 69.01L375.38 69.95L378.17 71.44L378.48 73.59L378.06 75.76L375.58 77.12L373.33 77.94L370.94 77.83L369.79 76.10L368.50 74.10Z" stroke-width="1.3"/><path d="M370.66 72.89L371.06 71.98L373.47 71.68L375.35 71.66L375.70 74.18L374.99 76.13L372.58 75.82L370.64 75.03L370.60 73.30Z" stroke-width="1.3"/><path d="M371.74 72.49L372.76 73.85L374.50 72.80" stroke-width="1.3"/><path d="M363.87 81.86L362.42 83.63L360.33 85.17L357.07 86.70L355.27 88.71L355.72 90.60L355.50 92.69L354.82 94.21L354.38 95.87L355.19 97.46L354.79 99.03L354.22 101.20L352.96 102.31L353.14 104.79L352.12 106.08L352.00 108.00" stroke-width="1.3"/><path d="M364.21 84.70L365.07 86.49L365.10 87.88L366.07 89.69L366.66 91.18L366.52 93.13L366.13 95.12L365.18 96.40L364.76 98.40L363.51 99.56L361.81 100.60L361.18 102.43L359.79 103.35L358.35 105.18L357.00 106.00" stroke-width="1.3"/><path d="M369.30 86.09L369.43 87.44L370.55 88.89L371.02 90.84L371.86 92.78L371.05 93.80L370.79 95.93L370.33 98.03L369.85 99.09L368.80 101.28L367.50 102.50" stroke-width="1.3"/><path d="M376.33 86.06L376.80 89.32L378.03 90.67L378.50 92.00" stroke-width="1.3"/><rect x="406.00" y="81.50" width="1.1" height="1.1" fill="#111" stroke="none"/><rect x="407.00" y="80.50" width="1.1" height="1.1" fill="#111" stroke="none"/><rect x="408.00" y="82.00" width="1.1" height="1.1" fill="#111" stroke="none"/><rect x="405.00" y="83.00" width="1.1" height="1.1" fill="#111" stroke="none"/><rect x="411.50" y="80.00" width="1.1" height="1.1" fill="#111" stroke="none"/><rect x="403.50" y="84.50" width="1.1" height="1.1" fill="#111" stroke="none"/><rect x="364.80" y="90.50" width="1.1" height="1.1" fill="#111" stroke="none"/><rect x="359.50" y="92.50" width="1.1" height="1.1" fill="#111" stroke="none"/><rect x="357.50" y="95.50" width="1.1" height="1.1" fill="#111" stroke="none"/></g></g>
<g stroke="#111" stroke-width="1.15" fill="none"><line x1="346.50" y1="131.00" x2="350.70" y2="131.00"/><line x1="348.30" y1="123.99" x2="350.70" y2="123.99"/><line x1="348.30" y1="119.88" x2="350.70" y2="119.88"/><line x1="348.30" y1="116.97" x2="350.70" y2="116.97"/><line x1="348.30" y1="114.71" x2="350.70" y2="114.71"/><line x1="348.30" y1="112.87" x2="350.70" y2="112.87"/><line x1="348.30" y1="111.31" x2="350.70" y2="111.31"/><line x1="348.30" y1="109.96" x2="350.70" y2="109.96"/><line x1="348.30" y1="108.77" x2="350.70" y2="108.77"/><line x1="346.50" y1="107.70" x2="350.70" y2="107.70"/><line x1="348.30" y1="100.69" x2="350.70" y2="100.69"/><line x1="348.30" y1="96.58" x2="350.70" y2="96.58"/><line x1="348.30" y1="93.67" x2="350.70" y2="93.67"/><line x1="348.30" y1="91.41" x2="350.70" y2="91.41"/><line x1="348.30" y1="89.57" x2="350.70" y2="89.57"/><line x1="348.30" y1="88.01" x2="350.70" y2="88.01"/><line x1="348.30" y1="86.66" x2="350.70" y2="86.66"/><line x1="348.30" y1="85.47" x2="350.70" y2="85.47"/><line x1="346.50" y1="84.40" x2="350.70" y2="84.40"/><line x1="348.30" y1="77.39" x2="350.70" y2="77.39"/><line x1="348.30" y1="73.28" x2="350.70" y2="73.28"/><line x1="348.30" y1="70.37" x2="350.70" y2="70.37"/><line x1="348.30" y1="68.11" x2="350.70" y2="68.11"/><line x1="348.30" y1="66.27" x2="350.70" y2="66.27"/><line x1="348.30" y1="64.71" x2="350.70" y2="64.71"/><line x1="348.30" y1="63.36" x2="350.70" y2="63.36"/><line x1="348.30" y1="62.17" x2="350.70" y2="62.17"/><line x1="346.50" y1="61.10" x2="350.70" y2="61.10"/><line x1="348.30" y1="54.09" x2="350.70" y2="54.09"/><line x1="348.30" y1="49.98" x2="350.70" y2="49.98"/><line x1="348.30" y1="47.07" x2="350.70" y2="47.07"/><line x1="348.30" y1="44.81" x2="350.70" y2="44.81"/><line x1="348.30" y1="42.97" x2="350.70" y2="42.97"/><line x1="348.30" y1="41.41" x2="350.70" y2="41.41"/><line x1="348.30" y1="40.06" x2="350.70" y2="40.06"/><line x1="348.30" y1="38.87" x2="350.70" y2="38.87"/><line x1="346.50" y1="37.80" x2="350.70" y2="37.80"/><line x1="350.70" y1="131.00" x2="350.70" y2="135.20"/><line x1="358.19" y1="131.00" x2="358.19" y2="133.40"/><line x1="362.57" y1="131.00" x2="362.57" y2="133.40"/><line x1="365.68" y1="131.00" x2="365.68" y2="133.40"/><line x1="368.09" y1="131.00" x2="368.09" y2="133.40"/><line x1="370.06" y1="131.00" x2="370.06" y2="133.40"/><line x1="371.72" y1="131.00" x2="371.72" y2="133.40"/><line x1="373.16" y1="131.00" x2="373.16" y2="133.40"/><line x1="374.44" y1="131.00" x2="374.44" y2="133.40"/><line x1="375.57" y1="131.00" x2="375.57" y2="135.20"/><line x1="383.06" y1="131.00" x2="383.06" y2="133.40"/><line x1="387.44" y1="131.00" x2="387.44" y2="133.40"/><line x1="390.55" y1="131.00" x2="390.55" y2="133.40"/><line x1="392.96" y1="131.00" x2="392.96" y2="133.40"/><line x1="394.93" y1="131.00" x2="394.93" y2="133.40"/><line x1="396.60" y1="131.00" x2="396.60" y2="133.40"/><line x1="398.04" y1="131.00" x2="398.04" y2="133.40"/><line x1="399.31" y1="131.00" x2="399.31" y2="133.40"/><line x1="400.45" y1="131.00" x2="400.45" y2="135.20"/><line x1="407.94" y1="131.00" x2="407.94" y2="133.40"/><line x1="412.32" y1="131.00" x2="412.32" y2="133.40"/><line x1="415.43" y1="131.00" x2="415.43" y2="133.40"/><line x1="417.84" y1="131.00" x2="417.84" y2="133.40"/><line x1="419.81" y1="131.00" x2="419.81" y2="133.40"/><line x1="421.47" y1="131.00" x2="421.47" y2="133.40"/><line x1="422.91" y1="131.00" x2="422.91" y2="133.40"/><line x1="424.19" y1="131.00" x2="424.19" y2="133.40"/><line x1="425.32" y1="131.00" x2="425.32" y2="135.20"/><line x1="432.81" y1="131.00" x2="432.81" y2="133.40"/><line x1="437.19" y1="131.00" x2="437.19" y2="133.40"/><line x1="440.30" y1="131.00" x2="440.30" y2="133.40"/><line x1="442.71" y1="131.00" x2="442.71" y2="133.40"/><line x1="444.68" y1="131.00" x2="444.68" y2="133.40"/><line x1="446.35" y1="131.00" x2="446.35" y2="133.40"/><line x1="447.79" y1="131.00" x2="447.79" y2="133.40"/><line x1="449.06" y1="131.00" x2="449.06" y2="133.40"/><line x1="450.20" y1="131.00" x2="450.20" y2="135.20"/><rect x="350.70" y="37.80" width="99.50" height="93.20" fill="none"/><line x1="373.50" y1="37.80" x2="373.50" y2="131.00"/><line x1="350.70" y1="84.10" x2="450.20" y2="84.10"/></g>
<g font-family='"Liberation Sans", sans-serif' fill="#111" stroke="#111" stroke-width="0.3"><g transform="translate(350.70,145.40)"><path d="M-5.75 0.00V-6.62" stroke="#111" stroke-width="1.25" fill="none"/><path d="M-5.75 -6.32L-7.38 -4.70" stroke="#111" stroke-width="0.96" fill="none"/><text x="0.45" y="0.00" font-size="9.6" text-anchor="middle">0</text><text x="5.90" y="-5.00" font-size="8.8" text-anchor="middle">0</text></g><g transform="translate(375.57,145.40)"><path d="M-5.75 0.00V-6.62" stroke="#111" stroke-width="1.25" fill="none"/><path d="M-5.75 -6.32L-7.38 -4.70" stroke="#111" stroke-width="0.96" fill="none"/><text x="0.45" y="0.00" font-size="9.6" text-anchor="middle">0</text><path d="M6.15 -5.00V-11.07" stroke="#111" stroke-width="1.14" fill="none"/><path d="M6.15 -10.77L4.65 -9.31" stroke="#111" stroke-width="0.88" fill="none"/></g><g transform="translate(400.45,145.40)"><path d="M-5.75 0.00V-6.62" stroke="#111" stroke-width="1.25" fill="none"/><path d="M-5.75 -6.32L-7.38 -4.70" stroke="#111" stroke-width="0.96" fill="none"/><text x="0.45" y="0.00" font-size="9.6" text-anchor="middle">0</text><text x="5.90" y="-5.00" font-size="8.8" text-anchor="middle">2</text></g><g transform="translate(425.32,145.40)"><path d="M-5.75 0.00V-6.62" stroke="#111" stroke-width="1.25" fill="none"/><path d="M-5.75 -6.32L-7.38 -4.70" stroke="#111" stroke-width="0.96" fill="none"/><text x="0.45" y="0.00" font-size="9.6" text-anchor="middle">0</text><text x="5.90" y="-5.00" font-size="8.8" text-anchor="middle">3</text></g><g transform="translate(450.20,145.40)"><path d="M-5.75 0.00V-6.62" stroke="#111" stroke-width="1.25" fill="none"/><path d="M-5.75 -6.32L-7.38 -4.70" stroke="#111" stroke-width="0.96" fill="none"/><text x="0.45" y="0.00" font-size="9.6" text-anchor="middle">0</text><text x="5.90" y="-5.00" font-size="8.8" text-anchor="middle">4</text></g></g>
<g font-family='"Liberation Sans", sans-serif' fill="#111" stroke="#111" stroke-width="0.3"><g transform="translate(342.70,131.00) rotate(-90)"><path d="M-6.85 0.00V-6.62" stroke="#111" stroke-width="1.25" fill="none"/><path d="M-6.85 -6.32L-8.48 -4.70" stroke="#111" stroke-width="0.96" fill="none"/><text x="-1.80" y="0.00" font-size="9.6" text-anchor="middle">0</text><text x="5.30" y="-5.40" font-size="8.8" text-anchor="middle">0</text></g><g transform="translate(342.70,107.70) rotate(-90)"><path d="M-6.85 0.00V-6.62" stroke="#111" stroke-width="1.25" fill="none"/><path d="M-6.85 -6.32L-8.48 -4.70" stroke="#111" stroke-width="0.96" fill="none"/><text x="-1.80" y="0.00" font-size="9.6" text-anchor="middle">0</text><path d="M5.55 -5.40V-11.47" stroke="#111" stroke-width="1.14" fill="none"/><path d="M5.55 -11.17L4.05 -9.71" stroke="#111" stroke-width="0.88" fill="none"/></g><g transform="translate(342.70,84.40) rotate(-90)"><path d="M-6.85 0.00V-6.62" stroke="#111" stroke-width="1.25" fill="none"/><path d="M-6.85 -6.32L-8.48 -4.70" stroke="#111" stroke-width="0.96" fill="none"/><text x="-1.80" y="0.00" font-size="9.6" text-anchor="middle">0</text><text x="5.30" y="-5.40" font-size="8.8" text-anchor="middle">2</text></g><g transform="translate(342.70,61.10) rotate(-90)"><path d="M-6.85 0.00V-6.62" stroke="#111" stroke-width="1.25" fill="none"/><path d="M-6.85 -6.32L-8.48 -4.70" stroke="#111" stroke-width="0.96" fill="none"/><text x="-1.80" y="0.00" font-size="9.6" text-anchor="middle">0</text><text x="5.30" y="-5.40" font-size="8.8" text-anchor="middle">3</text></g><g transform="translate(342.70,37.80) rotate(-90)"><path d="M-6.85 0.00V-6.62" stroke="#111" stroke-width="1.25" fill="none"/><path d="M-6.85 -6.32L-8.48 -4.70" stroke="#111" stroke-width="0.96" fill="none"/><text x="-1.80" y="0.00" font-size="9.6" text-anchor="middle">0</text><text x="5.30" y="-5.40" font-size="8.8" text-anchor="middle">4</text></g></g>
<clipPath id="clP4"><rect x="83.0" y="176.7" width="101.80000000000001" height="96.80000000000001"/></clipPath>
<g clip-path="url(#clP4)"><path d="M83.00 258.50L86.80 258.40L90.70 258.00L94.50 258.10L98.40 259.00L102.00 260.50L104.00 262.50L105.30 265.00L106.30 269.00L106.80 274.00L83.00 274.00Z" fill="#111" stroke="none"/><rect x="91.7" y="260.1" width="1.5" height="1.2" fill="#fff"/><rect x="99.5" y="260.3" width="1.5" height="1.2" fill="#fff"/><rect x="96.2" y="264.1" width="1.5" height="1.2" fill="#fff"/><rect x="103.4" y="263.7" width="1.5" height="1.2" fill="#fff"/><rect x="84.8" y="267.8" width="1.5" height="1.2" fill="#fff"/><rect x="92.6" y="268.1" width="1.5" height="1.2" fill="#fff"/><rect x="100.0" y="268.2" width="1.5" height="1.2" fill="#fff"/><rect x="96.0" y="271.8" width="1.5" height="1.2" fill="#fff"/><rect x="103.4" y="271.4" width="1.5" height="1.2" fill="#fff"/><rect x="99.7" y="263.8" width="1.1" height="1.1" fill="#fff"/><rect x="96.4" y="264.4" width="1.1" height="1.1" fill="#fff"/><rect x="95.3" y="260.4" width="1.1" height="1.1" fill="#fff"/><rect x="84.1" y="274.0" width="1.1" height="1.1" fill="#fff"/><rect x="91.9" y="259.7" width="1.1" height="1.1" fill="#fff"/><rect x="98.1" y="270.6" width="1.1" height="1.1" fill="#fff"/><rect x="86.7" y="267.6" width="1.1" height="1.1" fill="#fff"/><rect x="91.2" y="266.3" width="1.1" height="1.1" fill="#fff"/><rect x="83.5" y="258.5" width="1.1" height="1.1" fill="#fff"/><rect x="106.6" y="271.9" width="1.1" height="1.1" fill="#fff"/><rect x="94.6" y="267.1" width="1.1" height="1.1" fill="#fff"/><rect x="89.2" y="270.5" width="1.1" height="1.1" fill="#fff"/><rect x="93.1" y="273.1" width="1.1" height="1.1" fill="#fff"/><rect x="101.3" y="271.1" width="1.1" height="1.1" fill="#fff"/><rect x="83.9" y="261.2" width="1.1" height="1.1" fill="#fff"/><rect x="87.3" y="259.3" width="1.1" height="1.1" fill="#fff"/><rect x="84.2" y="266.9" width="1.1" height="1.1" fill="#fff"/><rect x="103.7" y="265.3" width="1.1" height="1.1" fill="#fff"/><rect x="105.5" y="272.6" width="1.1" height="1.1" fill="#fff"/><rect x="84.5" y="267.6" width="1.1" height="1.1" fill="#fff"/><rect x="92.5" y="259.9" width="1.1" height="1.1" fill="#fff"/><rect x="96.4" y="268.3" width="1.1" height="1.1" fill="#fff"/><rect x="105.8" y="268.7" width="1.1" height="1.1" fill="#fff"/><rect x="92.4" y="265.2" width="1.1" height="1.1" fill="#fff"/><path d="M84.80 224.60L86.80 223.90L88.40 225.00L88.20 227.40L87.20 229.40L86.10 230.80L84.80 230.20Z" fill="#111" stroke="none"/><g fill="none" stroke="#111" stroke-linejoin="round" stroke-linecap="round"><path d="M85.02 208.54L86.75 207.28L89.28 206.37L92.26 205.86L93.80 205.59L95.36 206.69L97.63 208.14L99.50 208.58L101.33 211.70L101.06 212.72L100.78 214.73L99.94 215.94L99.68 217.36L98.68 219.90L97.26 221.48L96.86 223.76L97.30 226.33L97.88 228.98L99.20 230.14L100.93 231.25L101.88 233.15L102.59 235.14L104.01 236.42L105.16 238.06L107.09 237.78L108.42 238.58L108.85 240.10L110.79 241.65L112.58 241.23L114.99 239.62L117.29 238.59L119.51 237.60L120.50 236.69L122.19 236.26L123.55 235.53L125.05 234.66L127.15 233.24L129.08 231.21L130.98 229.63L133.18 228.74L135.85 227.58L137.50 226.70" stroke-width="1.3"/><path d="M85.04 211.11L88.16 210.10L89.65 210.31L91.53 210.06L93.78 211.16L94.78 212.45L95.00 215.32L92.82 217.24L91.47 218.75L88.66 218.17L86.31 217.54L85.59 215.83L85.02 213.33L85.40 211.30Z" stroke-width="1.3"/><path d="M85.50 224.50L86.80 223.74L88.40 225.69L87.78 228.07L85.83 228.21L87.06 230.07L87.80 231.30L88.63 233.05L89.41 235.03L89.29 236.21L89.87 238.58L89.43 240.29L88.42 242.70L88.03 244.00L87.48 246.29L86.55 247.77L86.35 249.31L85.51 251.39L85.30 253.10" stroke-width="1.3"/><path d="M93.28 226.63L93.19 228.39L93.59 230.33L93.71 232.39L94.91 234.00L95.26 235.93L96.03 237.37L96.82 239.10L96.51 240.54L97.33 243.09L97.88 244.34L100.08 246.73L101.77 248.59L104.57 249.32L106.98 248.94L109.43 248.70L110.99 246.66L113.69 246.20L115.80 244.36L118.00 243.50" stroke-width="1.3"/><path d="M84.92 255.67L87.68 255.02L88.83 253.62L90.92 252.10L93.99 251.99L95.15 252.28L97.11 253.12L99.81 253.90L103.15 253.75L104.97 254.55L107.44 256.63L108.97 258.87L109.18 260.56L108.70 262.02L109.61 264.39L109.07 265.93L109.52 267.88L109.50 270.00" stroke-width="1.3"/><path d="M86.03 257.11L87.94 256.65L89.57 255.48L92.42 255.90L94.39 255.62L96.28 256.35L98.35 256.08L100.13 256.79L102.16 257.30L103.79 258.88L105.61 259.28L106.37 261.19L107.61 262.81L107.22 264.80L107.26 266.42L107.80 268.00" stroke-width="1.3"/><path d="M130.61 230.41L129.44 231.92L129.13 233.18L128.01 234.77L127.41 236.62L126.86 238.52L126.13 240.84L126.31 243.00L125.56 245.14L124.93 247.29L124.86 249.24L124.50 251.27L123.73 253.17L123.10 255.51L122.69 257.68L122.11 259.57L122.63 261.56L122.10 263.89L121.61 266.44L121.12 268.34L120.49 269.81L120.58 272.05L119.70 274.00" stroke-width="1.3"/><path d="M117.21 242.80L118.10 245.21L118.35 246.85L119.36 249.41L118.89 251.15L119.32 253.56L119.80 255.81L119.49 257.62L118.91 259.92L118.38 261.78L117.86 264.09L117.72 265.66L117.43 267.65L116.84 271.28L116.50 274.00" stroke-width="1.3"/><path d="M112.40 245.42L112.30 247.03L112.32 249.54L112.00 251.19L111.66 253.36L111.70 255.31L111.20 257.65L111.03 259.54L111.23 262.11L110.80 263.85L110.35 265.82L110.15 268.17L110.37 269.83L110.63 271.94L110.20 274.00" stroke-width="1.3"/><rect x="127.50" y="239.30" width="1.1" height="1.1" fill="#111" stroke="none"/><rect x="127.00" y="240.50" width="1.1" height="1.1" fill="#111" stroke="none"/><rect x="123.00" y="253.90" width="1.1" height="1.1" fill="#111" stroke="none"/><rect x="122.30" y="254.70" width="1.1" height="1.1" fill="#111" stroke="none"/><rect x="116.10" y="261.30" width="1.1" height="1.1" fill="#111" stroke="none"/><rect x="114.00" y="264.50" width="1.1" height="1.1" fill="#111" stroke="none"/><rect x="115.00" y="264.00" width="1.1" height="1.1" fill="#111" stroke="none"/><rect x="121.80" y="264.40" width="1.1" height="1.1" fill="#111" stroke="none"/><rect x="121.10" y="266.00" width="1.1" height="1.1" fill="#111" stroke="none"/><rect x="135.00" y="225.50" width="1.1" height="1.1" fill="#111" stroke="none"/><rect x="137.50" y="225.00" width="1.1" height="1.1" fill="#111" stroke="none"/></g></g>
<g stroke="#111" stroke-width="1.15" fill="none"><line x1="78.80" y1="273.50" x2="83.00" y2="273.50"/><line x1="80.60" y1="266.22" x2="83.00" y2="266.22"/><line x1="80.60" y1="261.95" x2="83.00" y2="261.95"/><line x1="80.60" y1="258.93" x2="83.00" y2="258.93"/><line x1="80.60" y1="256.58" x2="83.00" y2="256.58"/><line x1="80.60" y1="254.67" x2="83.00" y2="254.67"/><line x1="80.60" y1="253.05" x2="83.00" y2="253.05"/><line x1="80.60" y1="251.65" x2="83.00" y2="251.65"/><line x1="80.60" y1="250.41" x2="83.00" y2="250.41"/><line x1="78.80" y1="249.30" x2="83.00" y2="249.30"/><line x1="80.60" y1="242.02" x2="83.00" y2="242.02"/><line x1="80.60" y1="237.75" x2="83.00" y2="237.75"/><line x1="80.60" y1="234.73" x2="83.00" y2="234.73"/><line x1="80.60" y1="232.38" x2="83.00" y2="232.38"/><line x1="80.60" y1="230.47" x2="83.00" y2="230.47"/><line x1="80.60" y1="228.85" x2="83.00" y2="228.85"/><line x1="80.60" y1="227.45" x2="83.00" y2="227.45"/><line x1="80.60" y1="226.21" x2="83.00" y2="226.21"/><line x1="78.80" y1="225.10" x2="83.00" y2="225.10"/><line x1="80.60" y1="217.82" x2="83.00" y2="217.82"/><line x1="80.60" y1="213.55" x2="83.00" y2="213.55"/><line x1="80.60" y1="210.53" x2="83.00" y2="210.53"/><line x1="80.60" y1="208.18" x2="83.00" y2="208.18"/><line x1="80.60" y1="206.27" x2="83.00" y2="206.27"/><line x1="80.60" y1="204.65" x2="83.00" y2="204.65"/><line x1="80.60" y1="203.25" x2="83.00" y2="203.25"/><line x1="80.60" y1="202.01" x2="83.00" y2="202.01"/><line x1="78.80" y1="200.90" x2="83.00" y2="200.90"/><line x1="80.60" y1="193.62" x2="83.00" y2="193.62"/><line x1="80.60" y1="189.35" x2="83.00" y2="189.35"/><line x1="80.60" y1="186.33" x2="83.00" y2="186.33"/><line x1="80.60" y1="183.98" x2="83.00" y2="183.98"/><line x1="80.60" y1="182.07" x2="83.00" y2="182.07"/><line x1="80.60" y1="180.45" x2="83.00" y2="180.45"/><line x1="80.60" y1="179.05" x2="83.00" y2="179.05"/><line x1="80.60" y1="177.81" x2="83.00" y2="177.81"/><line x1="78.80" y1="176.70" x2="83.00" y2="176.70"/><line x1="83.00" y1="273.50" x2="83.00" y2="277.70"/><line x1="90.66" y1="273.50" x2="90.66" y2="275.90"/><line x1="95.14" y1="273.50" x2="95.14" y2="275.90"/><line x1="98.32" y1="273.50" x2="98.32" y2="275.90"/><line x1="100.79" y1="273.50" x2="100.79" y2="275.90"/><line x1="102.80" y1="273.50" x2="102.80" y2="275.90"/><line x1="104.51" y1="273.50" x2="104.51" y2="275.90"/><line x1="105.98" y1="273.50" x2="105.98" y2="275.90"/><line x1="107.29" y1="273.50" x2="107.29" y2="275.90"/><line x1="108.45" y1="273.50" x2="108.45" y2="277.70"/><line x1="116.11" y1="273.50" x2="116.11" y2="275.90"/><line x1="120.59" y1="273.50" x2="120.59" y2="275.90"/><line x1="123.77" y1="273.50" x2="123.77" y2="275.90"/><line x1="126.24" y1="273.50" x2="126.24" y2="275.90"/><line x1="128.25" y1="273.50" x2="128.25" y2="275.90"/><line x1="129.96" y1="273.50" x2="129.96" y2="275.90"/><line x1="131.43" y1="273.50" x2="131.43" y2="275.90"/><line x1="132.74" y1="273.50" x2="132.74" y2="275.90"/><line x1="133.90" y1="273.50" x2="133.90" y2="277.70"/><line x1="141.56" y1="273.50" x2="141.56" y2="275.90"/><line x1="146.04" y1="273.50" x2="146.04" y2="275.90"/><line x1="149.22" y1="273.50" x2="149.22" y2="275.90"/><line x1="151.69" y1="273.50" x2="151.69" y2="275.90"/><line x1="153.70" y1="273.50" x2="153.70" y2="275.90"/><line x1="155.41" y1="273.50" x2="155.41" y2="275.90"/><line x1="156.88" y1="273.50" x2="156.88" y2="275.90"/><line x1="158.19" y1="273.50" x2="158.19" y2="275.90"/><line x1="159.35" y1="273.50" x2="159.35" y2="277.70"/><line x1="167.01" y1="273.50" x2="167.01" y2="275.90"/><line x1="171.49" y1="273.50" x2="171.49" y2="275.90"/><line x1="174.67" y1="273.50" x2="174.67" y2="275.90"/><line x1="177.14" y1="273.50" x2="177.14" y2="275.90"/><line x1="179.15" y1="273.50" x2="179.15" y2="275.90"/><line x1="180.86" y1="273.50" x2="180.86" y2="275.90"/><line x1="182.33" y1="273.50" x2="182.33" y2="275.90"/><line x1="183.64" y1="273.50" x2="183.64" y2="275.90"/><line x1="184.80" y1="273.50" x2="184.80" y2="277.70"/><rect x="83.00" y="176.70" width="101.80" height="96.80" fill="none"/><line x1="105.70" y1="176.70" x2="105.70" y2="273.50"/><line x1="83.00" y1="227.00" x2="184.80" y2="227.00"/></g>
<g font-family='"Liberation Sans", sans-serif' fill="#111" stroke="#111" stroke-width="0.3"><g transform="translate(83.00,287.90)"><path d="M-5.75 0.00V-6.62" stroke="#111" stroke-width="1.25" fill="none"/><path d="M-5.75 -6.32L-7.38 -4.70" stroke="#111" stroke-width="0.96" fill="none"/><text x="0.45" y="0.00" font-size="9.6" text-anchor="middle">0</text><text x="5.90" y="-5.00" font-size="8.8" text-anchor="middle">0</text></g><g transform="translate(108.45,287.90)"><path d="M-5.75 0.00V-6.62" stroke="#111" stroke-width="1.25" fill="none"/><path d="M-5.75 -6.32L-7.38 -4.70" stroke="#111" stroke-width="0.96" fill="none"/><text x="0.45" y="0.00" font-size="9.6" text-anchor="middle">0</text><path d="M6.15 -5.00V-11.07" stroke="#111" stroke-width="1.14" fill="none"/><path d="M6.15 -10.77L4.65 -9.31" stroke="#111" stroke-width="0.88" fill="none"/></g><g transform="translate(133.90,287.90)"><path d="M-5.75 0.00V-6.62" stroke="#111" stroke-width="1.25" fill="none"/><path d="M-5.75 -6.32L-7.38 -4.70" stroke="#111" stroke-width="0.96" fill="none"/><text x="0.45" y="0.00" font-size="9.6" text-anchor="middle">0</text><text x="5.90" y="-5.00" font-size="8.8" text-anchor="middle">2</text></g><g transform="translate(159.35,287.90)"><path d="M-5.75 0.00V-6.62" stroke="#111" stroke-width="1.25" fill="none"/><path d="M-5.75 -6.32L-7.38 -4.70" stroke="#111" stroke-width="0.96" fill="none"/><text x="0.45" y="0.00" font-size="9.6" text-anchor="middle">0</text><text x="5.90" y="-5.00" font-size="8.8" text-anchor="middle">3</text></g><g transform="translate(184.80,287.90)"><path d="M-5.75 0.00V-6.62" stroke="#111" stroke-width="1.25" fill="none"/><path d="M-5.75 -6.32L-7.38 -4.70" stroke="#111" stroke-width="0.96" fill="none"/><text x="0.45" y="0.00" font-size="9.6" text-anchor="middle">0</text><text x="5.90" y="-5.00" font-size="8.8" text-anchor="middle">4</text></g></g>
<g font-family='"Liberation Sans", sans-serif' fill="#111" stroke="#111" stroke-width="0.3"><g transform="translate(75.00,273.50) rotate(-90)"><path d="M-6.85 0.00V-6.62" stroke="#111" stroke-width="1.25" fill="none"/><path d="M-6.85 -6.32L-8.48 -4.70" stroke="#111" stroke-width="0.96" fill="none"/><text x="-1.80" y="0.00" font-size="9.6" text-anchor="middle">0</text><text x="5.30" y="-5.40" font-size="8.8" text-anchor="middle">0</text></g><g transform="translate(75.00,249.30) rotate(-90)"><path d="M-6.85 0.00V-6.62" stroke="#111" stroke-width="1.25" fill="none"/><path d="M-6.85 -6.32L-8.48 -4.70" stroke="#111" stroke-width="0.96" fill="none"/><text x="-1.80" y="0.00" font-size="9.6" text-anchor="middle">0</text><path d="M5.55 -5.40V-11.47" stroke="#111" stroke-width="1.14" fill="none"/><path d="M5.55 -11.17L4.05 -9.71" stroke="#111" stroke-width="0.88" fill="none"/></g><g transform="translate(75.00,225.10) rotate(-90)"><path d="M-6.85 0.00V-6.62" stroke="#111" stroke-width="1.25" fill="none"/><path d="M-6.85 -6.32L-8.48 -4.70" stroke="#111" stroke-width="0.96" fill="none"/><text x="-1.80" y="0.00" font-size="9.6" text-anchor="middle">0</text><text x="5.30" y="-5.40" font-size="8.8" text-anchor="middle">2</text></g><g transform="translate(75.00,200.90) rotate(-90)"><path d="M-6.85 0.00V-6.62" stroke="#111" stroke-width="1.25" fill="none"/><path d="M-6.85 -6.32L-8.48 -4.70" stroke="#111" stroke-width="0.96" fill="none"/><text x="-1.80" y="0.00" font-size="9.6" text-anchor="middle">0</text><text x="5.30" y="-5.40" font-size="8.8" text-anchor="middle">3</text></g><g transform="translate(75.00,176.70) rotate(-90)"><path d="M-6.85 0.00V-6.62" stroke="#111" stroke-width="1.25" fill="none"/><path d="M-6.85 -6.32L-8.48 -4.70" stroke="#111" stroke-width="0.96" fill="none"/><text x="-1.80" y="0.00" font-size="9.6" text-anchor="middle">0</text><text x="5.30" y="-5.40" font-size="8.8" text-anchor="middle">4</text></g></g>
<clipPath id="clP5"><rect x="218.2" y="176.9" width="102.69999999999999" height="96.29999999999998"/></clipPath>
<g clip-path="url(#clP5)"><path d="M218.20 261.00L220.00 260.60L224.90 257.60L229.80 254.60L234.80 252.70L238.70 249.70L240.70 246.70L242.70 243.80L245.70 241.80L249.60 239.80L252.00 238.00L255.20 234.20L258.50 233.00L261.80 232.50L266.10 232.00L268.30 234.20L268.90 239.60L267.80 246.10L266.10 252.70L264.00 259.20L262.30 263.60L261.20 267.90L260.70 271.20L260.50 274.00L218.20 274.00Z" fill="#111" stroke="none"/><rect x="258.7" y="234.3" width="1.5" height="1.2" fill="#fff"/><rect x="266.5" y="234.0" width="1.5" height="1.2" fill="#fff"/><rect x="254.2" y="238.0" width="1.5" height="1.2" fill="#fff"/><rect x="262.5" y="238.4" width="1.5" height="1.2" fill="#fff"/><rect x="257.7" y="242.2" width="1.5" height="1.2" fill="#fff"/><rect x="266.3" y="242.3" width="1.5" height="1.2" fill="#fff"/><rect x="246.8" y="245.8" width="1.5" height="1.2" fill="#fff"/><rect x="254.9" y="245.8" width="1.5" height="1.2" fill="#fff"/><rect x="261.9" y="246.0" width="1.5" height="1.2" fill="#fff"/><rect x="242.5" y="249.7" width="1.5" height="1.2" fill="#fff"/><rect x="251.1" y="249.7" width="1.5" height="1.2" fill="#fff"/><rect x="257.7" y="249.3" width="1.5" height="1.2" fill="#fff"/><rect x="246.1" y="253.8" width="1.5" height="1.2" fill="#fff"/><rect x="254.6" y="253.4" width="1.5" height="1.2" fill="#fff"/><rect x="261.8" y="253.1" width="1.5" height="1.2" fill="#fff"/><rect x="227.2" y="257.3" width="1.5" height="1.2" fill="#fff"/><rect x="234.6" y="257.8" width="1.5" height="1.2" fill="#fff"/><rect x="243.4" y="257.3" width="1.5" height="1.2" fill="#fff"/><rect x="250.2" y="256.9" width="1.5" height="1.2" fill="#fff"/><rect x="224.0" y="261.6" width="1.5" height="1.2" fill="#fff"/><rect x="231.4" y="261.8" width="1.5" height="1.2" fill="#fff"/><rect x="239.5" y="261.0" width="1.5" height="1.2" fill="#fff"/><rect x="246.9" y="261.0" width="1.5" height="1.2" fill="#fff"/><rect x="254.8" y="261.3" width="1.5" height="1.2" fill="#fff"/><rect x="219.3" y="265.1" width="1.5" height="1.2" fill="#fff"/><rect x="228.0" y="265.0" width="1.5" height="1.2" fill="#fff"/><rect x="234.6" y="265.2" width="1.5" height="1.2" fill="#fff"/><rect x="242.7" y="264.8" width="1.5" height="1.2" fill="#fff"/><rect x="250.9" y="265.1" width="1.5" height="1.2" fill="#fff"/><rect x="257.8" y="265.0" width="1.5" height="1.2" fill="#fff"/><rect x="223.1" y="269.3" width="1.5" height="1.2" fill="#fff"/><rect x="231.0" y="269.4" width="1.5" height="1.2" fill="#fff"/><rect x="238.9" y="269.4" width="1.5" height="1.2" fill="#fff"/><rect x="254.2" y="269.3" width="1.5" height="1.2" fill="#fff"/><rect x="235.3" y="272.8" width="1.5" height="1.2" fill="#fff"/><rect x="250.3" y="272.7" width="1.5" height="1.2" fill="#fff"/><rect x="231.9" y="264.4" width="1.1" height="1.1" fill="#fff"/><rect x="237.7" y="259.6" width="1.1" height="1.1" fill="#fff"/><rect x="247.0" y="245.1" width="1.1" height="1.1" fill="#fff"/><rect x="227.2" y="267.7" width="1.1" height="1.1" fill="#fff"/><rect x="234.5" y="259.8" width="1.1" height="1.1" fill="#fff"/><rect x="236.5" y="253.0" width="1.1" height="1.1" fill="#fff"/><rect x="224.6" y="262.1" width="1.1" height="1.1" fill="#fff"/><rect x="251.8" y="246.8" width="1.1" height="1.1" fill="#fff"/><rect x="239.1" y="259.7" width="1.1" height="1.1" fill="#fff"/><rect x="253.7" y="242.4" width="1.1" height="1.1" fill="#fff"/><rect x="261.1" y="246.8" width="1.1" height="1.1" fill="#fff"/><rect x="250.1" y="239.6" width="1.1" height="1.1" fill="#fff"/><rect x="224.0" y="270.3" width="1.1" height="1.1" fill="#fff"/><rect x="255.4" y="261.9" width="1.1" height="1.1" fill="#fff"/><rect x="250.6" y="239.5" width="1.1" height="1.1" fill="#fff"/><rect x="260.8" y="255.9" width="1.1" height="1.1" fill="#fff"/><rect x="254.5" y="242.7" width="1.1" height="1.1" fill="#fff"/><rect x="240.3" y="260.7" width="1.1" height="1.1" fill="#fff"/><rect x="260.5" y="264.6" width="1.1" height="1.1" fill="#fff"/><rect x="261.5" y="257.5" width="1.1" height="1.1" fill="#fff"/><rect x="223.8" y="265.2" width="1.1" height="1.1" fill="#fff"/><rect x="228.9" y="270.4" width="1.1" height="1.1" fill="#fff"/><rect x="256.2" y="235.6" width="1.1" height="1.1" fill="#fff"/><rect x="253.4" y="248.5" width="1.1" height="1.1" fill="#fff"/><rect x="256.1" y="266.8" width="1.1" height="1.1" fill="#fff"/><rect x="266.2" y="249.8" width="1.1" height="1.1" fill="#fff"/><rect x="255.6" y="266.9" width="1.1" height="1.1" fill="#fff"/><rect x="250.0" y="251.0" width="1.1" height="1.1" fill="#fff"/><rect x="221.0" y="261.3" width="1.1" height="1.1" fill="#fff"/><rect x="239.9" y="253.5" width="1.1" height="1.1" fill="#fff"/><rect x="265.3" y="237.4" width="1.1" height="1.1" fill="#fff"/><rect x="256.8" y="233.8" width="1.1" height="1.1" fill="#fff"/><rect x="253.8" y="265.8" width="1.1" height="1.1" fill="#fff"/><rect x="231.4" y="254.9" width="1.1" height="1.1" fill="#fff"/><rect x="245.8" y="242.5" width="1.1" height="1.1" fill="#fff"/><rect x="254.0" y="260.2" width="1.1" height="1.1" fill="#fff"/><rect x="244.3" y="250.7" width="1.1" height="1.1" fill="#fff"/><rect x="265.6" y="246.8" width="1.1" height="1.1" fill="#fff"/><rect x="233.4" y="269.2" width="1.1" height="1.1" fill="#fff"/><rect x="235.1" y="266.2" width="1.1" height="1.1" fill="#fff"/><rect x="246.0" y="263.9" width="1.1" height="1.1" fill="#fff"/><rect x="226.8" y="260.0" width="1.1" height="1.1" fill="#fff"/><rect x="248.6" y="251.4" width="1.1" height="1.1" fill="#fff"/><rect x="257.0" y="266.9" width="1.1" height="1.1" fill="#fff"/><rect x="228.2" y="261.5" width="1.1" height="1.1" fill="#fff"/><rect x="222.5" y="262.1" width="1.1" height="1.1" fill="#fff"/><rect x="250.0" y="271.3" width="1.1" height="1.1" fill="#fff"/><rect x="251.3" y="242.6" width="1.1" height="1.1" fill="#fff"/><path d="M248.50 253.50L251.00 252.20L254.00 250.50" fill="none" stroke="#fff" stroke-width="1.6" stroke-linecap="round"/><g fill="none" stroke="#111" stroke-linejoin="round" stroke-linecap="round"><path d="M242.47 226.37L244.47 228.25L247.41 227.42L249.02 229.02L251.91 230.18L252.60 228.66L255.00 227.82L255.60 229.30" stroke-width="1.5"/><path d="M243.84 230.42L247.39 230.04L248.53 230.70L250.08 231.40L252.40 232.40" stroke-width="1.3"/><path d="M242.47 234.69L244.96 234.32L247.89 235.29L249.66 235.10L251.59 235.60L253.49 235.82L255.67 234.32L257.30 235.10" stroke-width="1.3"/><path d="M244.17 237.00L245.50 238.17L246.73 237.79L250.15 237.92L251.60 239.10" stroke-width="1.3"/><path d="M237.70 239.55L238.81 243.32L237.80 246.00" stroke-width="1.3"/><path d="M240.96 228.93L240.00 231.10L239.71 232.83L238.59 234.18L237.92 235.86L237.16 236.60L235.87 238.80L235.36 240.66L235.78 242.43L236.64 244.76L236.72 247.12L236.13 249.13L234.22 250.81L232.08 251.30L229.96 252.80L227.67 253.71L226.31 254.58L224.03 255.42L221.76 256.95L219.00 257.60" stroke-width="1.3"/><path d="M239.58 226.72L242.16 227.95L244.13 227.64L246.88 228.57L249.92 228.03L251.56 228.66L252.65 229.21L256.35 229.04L258.65 230.13L260.28 228.79L262.03 228.28L263.74 228.20L265.25 227.87L268.00 227.00" stroke-width="1.3"/><path d="M266.95 224.01L268.43 224.87L269.32 226.12L271.00 227.93L272.75 228.89L273.66 229.82L274.61 231.83L274.54 233.40L275.35 234.95L276.41 237.46L277.05 239.27L277.85 241.40L277.21 243.31L276.86 245.13L276.89 246.49L277.19 248.23L277.10 250.06L276.83 251.66L276.63 253.58L275.70 255.12L275.49 256.94L275.43 258.79L274.56 260.19L274.38 262.17L273.63 262.82L272.79 264.34L272.19 266.57L271.25 268.28L273.96 268.78L275.32 269.15L277.70 269.47L278.85 269.17L281.05 270.12L283.32 270.15L285.01 270.82L286.69 270.88L288.74 271.88L290.00 272.50" stroke-width="1.3"/><path d="M265.47 230.28L267.30 230.01L268.36 230.59L269.60 232.89L270.97 233.78L270.78 236.29L271.59 237.70L271.78 239.29L272.06 241.13L272.04 242.95L271.27 244.32L271.34 246.45L271.41 247.34L270.75 249.27L270.75 251.12L270.40 252.57L269.56 254.54L269.35 255.80L268.96 258.44L268.02 259.55L268.02 261.53L267.10 263.60L266.54 265.81L266.23 268.31L266.51 269.35L265.99 271.88L265.80 273.50" stroke-width="1.3"/><path d="M253.24 225.65L252.02 222.82L250.38 219.70L249.47 217.54L248.19 214.56L248.62 213.29L250.02 211.71L252.02 209.47L254.05 207.52L254.95 206.40L256.54 205.94L258.03 204.38L259.17 203.26L261.36 203.47L263.06 205.13L264.86 206.15L265.66 208.82L266.00 211.31L266.42 214.23L267.50 217.25L267.39 219.76L266.98 222.78L267.30 224.00" stroke-width="1.3"/><path d="M252.92 213.51L254.67 211.44L256.57 209.25L258.74 207.93L260.41 206.89L263.26 207.40L263.28 209.17L263.60 212.19L263.68 214.85L262.81 217.63L261.59 220.23L260.23 221.03L259.01 221.02L257.49 218.82L256.28 218.24L254.46 216.17L253.30 213.80Z" stroke-width="1.3"/><path d="M256.42 213.83L257.74 211.83L259.78 210.44L261.34 211.62L262.33 213.71L261.66 215.65L259.40 216.72L257.69 216.31L256.85 215.09L256.70 213.80Z" stroke-width="1.3"/><path d="M258.69 213.38L259.57 211.96L260.98 213.46L260.44 214.40L258.60 213.60Z" stroke-width="1.3"/><path d="M265.30 216.70L265.85 218.13L265.50 220.20" stroke-width="1.3"/><path d="M244.09 217.58L246.24 219.13L247.10 220.60" stroke-width="1.3"/><rect x="246.50" y="222.80" width="1.1" height="1.1" fill="#111" stroke="none"/><rect x="243.00" y="221.50" width="1.1" height="1.1" fill="#111" stroke="none"/><rect x="276.50" y="223.00" width="1.1" height="1.1" fill="#111" stroke="none"/><rect x="278.50" y="222.00" width="1.1" height="1.1" fill="#111" stroke="none"/><rect x="281.00" y="221.00" width="1.1" height="1.1" fill="#111" stroke="none"/><rect x="283.50" y="220.00" width="1.1" height="1.1" fill="#111" stroke="none"/><rect x="274.50" y="224.50" width="1.1" height="1.1" fill="#111" stroke="none"/><rect x="272.00" y="225.00" width="1.1" height="1.1" fill="#111" stroke="none"/></g></g>
<g stroke="#111" stroke-width="1.15" fill="none"><line x1="214.00" y1="273.20" x2="218.20" y2="273.20"/><line x1="215.80" y1="265.95" x2="218.20" y2="265.95"/><line x1="215.80" y1="261.71" x2="218.20" y2="261.71"/><line x1="215.80" y1="258.71" x2="218.20" y2="258.71"/><line x1="215.80" y1="256.37" x2="218.20" y2="256.37"/><line x1="215.80" y1="254.47" x2="218.20" y2="254.47"/><line x1="215.80" y1="252.85" x2="218.20" y2="252.85"/><line x1="215.80" y1="251.46" x2="218.20" y2="251.46"/><line x1="215.80" y1="250.23" x2="218.20" y2="250.23"/><line x1="214.00" y1="249.12" x2="218.20" y2="249.12"/><line x1="215.80" y1="241.88" x2="218.20" y2="241.88"/><line x1="215.80" y1="237.64" x2="218.20" y2="237.64"/><line x1="215.80" y1="234.63" x2="218.20" y2="234.63"/><line x1="215.80" y1="232.30" x2="218.20" y2="232.30"/><line x1="215.80" y1="230.39" x2="218.20" y2="230.39"/><line x1="215.80" y1="228.78" x2="218.20" y2="228.78"/><line x1="215.80" y1="227.38" x2="218.20" y2="227.38"/><line x1="215.80" y1="226.15" x2="218.20" y2="226.15"/><line x1="214.00" y1="225.05" x2="218.20" y2="225.05"/><line x1="215.80" y1="217.80" x2="218.20" y2="217.80"/><line x1="215.80" y1="213.56" x2="218.20" y2="213.56"/><line x1="215.80" y1="210.56" x2="218.20" y2="210.56"/><line x1="215.80" y1="208.22" x2="218.20" y2="208.22"/><line x1="215.80" y1="206.32" x2="218.20" y2="206.32"/><line x1="215.80" y1="204.70" x2="218.20" y2="204.70"/><line x1="215.80" y1="203.31" x2="218.20" y2="203.31"/><line x1="215.80" y1="202.08" x2="218.20" y2="202.08"/><line x1="214.00" y1="200.97" x2="218.20" y2="200.97"/><line x1="215.80" y1="193.73" x2="218.20" y2="193.73"/><line x1="215.80" y1="189.49" x2="218.20" y2="189.49"/><line x1="215.80" y1="186.48" x2="218.20" y2="186.48"/><line x1="215.80" y1="184.15" x2="218.20" y2="184.15"/><line x1="215.80" y1="182.24" x2="218.20" y2="182.24"/><line x1="215.80" y1="180.63" x2="218.20" y2="180.63"/><line x1="215.80" y1="179.23" x2="218.20" y2="179.23"/><line x1="215.80" y1="178.00" x2="218.20" y2="178.00"/><line x1="214.00" y1="176.90" x2="218.20" y2="176.90"/><line x1="218.20" y1="273.20" x2="218.20" y2="277.40"/><line x1="225.93" y1="273.20" x2="225.93" y2="275.60"/><line x1="230.45" y1="273.20" x2="230.45" y2="275.60"/><line x1="233.66" y1="273.20" x2="233.66" y2="275.60"/><line x1="236.15" y1="273.20" x2="236.15" y2="275.60"/><line x1="238.18" y1="273.20" x2="238.18" y2="275.60"/><line x1="239.90" y1="273.20" x2="239.90" y2="275.60"/><line x1="241.39" y1="273.20" x2="241.39" y2="275.60"/><line x1="242.70" y1="273.20" x2="242.70" y2="275.60"/><line x1="243.88" y1="273.20" x2="243.88" y2="277.40"/><line x1="251.60" y1="273.20" x2="251.60" y2="275.60"/><line x1="256.13" y1="273.20" x2="256.13" y2="275.60"/><line x1="259.33" y1="273.20" x2="259.33" y2="275.60"/><line x1="261.82" y1="273.20" x2="261.82" y2="275.60"/><line x1="263.85" y1="273.20" x2="263.85" y2="275.60"/><line x1="265.57" y1="273.20" x2="265.57" y2="275.60"/><line x1="267.06" y1="273.20" x2="267.06" y2="275.60"/><line x1="268.38" y1="273.20" x2="268.38" y2="275.60"/><line x1="269.55" y1="273.20" x2="269.55" y2="277.40"/><line x1="277.28" y1="273.20" x2="277.28" y2="275.60"/><line x1="281.80" y1="273.20" x2="281.80" y2="275.60"/><line x1="285.01" y1="273.20" x2="285.01" y2="275.60"/><line x1="287.50" y1="273.20" x2="287.50" y2="275.60"/><line x1="289.53" y1="273.20" x2="289.53" y2="275.60"/><line x1="291.25" y1="273.20" x2="291.25" y2="275.60"/><line x1="292.74" y1="273.20" x2="292.74" y2="275.60"/><line x1="294.05" y1="273.20" x2="294.05" y2="275.60"/><line x1="295.22" y1="273.20" x2="295.22" y2="277.40"/><line x1="302.95" y1="273.20" x2="302.95" y2="275.60"/><line x1="307.48" y1="273.20" x2="307.48" y2="275.60"/><line x1="310.68" y1="273.20" x2="310.68" y2="275.60"/><line x1="313.17" y1="273.20" x2="313.17" y2="275.60"/><line x1="315.20" y1="273.20" x2="315.20" y2="275.60"/><line x1="316.92" y1="273.20" x2="316.92" y2="275.60"/><line x1="318.41" y1="273.20" x2="318.41" y2="275.60"/><line x1="319.73" y1="273.20" x2="319.73" y2="275.60"/><line x1="320.90" y1="273.20" x2="320.90" y2="277.40"/><rect x="218.20" y="176.90" width="102.70" height="96.30" fill="none"/><line x1="242.90" y1="176.90" x2="242.90" y2="273.20"/><line x1="218.20" y1="226.20" x2="320.90" y2="226.20"/></g>
<g font-family='"Liberation Sans", sans-serif' fill="#111" stroke="#111" stroke-width="0.3"><g transform="translate(218.20,287.60)"><path d="M-5.75 0.00V-6.62" stroke="#111" stroke-width="1.25" fill="none"/><path d="M-5.75 -6.32L-7.38 -4.70" stroke="#111" stroke-width="0.96" fill="none"/><text x="0.45" y="0.00" font-size="9.6" text-anchor="middle">0</text><text x="5.90" y="-5.00" font-size="8.8" text-anchor="middle">0</text></g><g transform="translate(243.88,287.60)"><path d="M-5.75 0.00V-6.62" stroke="#111" stroke-width="1.25" fill="none"/><path d="M-5.75 -6.32L-7.38 -4.70" stroke="#111" stroke-width="0.96" fill="none"/><text x="0.45" y="0.00" font-size="9.6" text-anchor="middle">0</text><path d="M6.15 -5.00V-11.07" stroke="#111" stroke-width="1.14" fill="none"/><path d="M6.15 -10.77L4.65 -9.31" stroke="#111" stroke-width="0.88" fill="none"/></g><g transform="translate(269.55,287.60)"><path d="M-5.75 0.00V-6.62" stroke="#111" stroke-width="1.25" fill="none"/><path d="M-5.75 -6.32L-7.38 -4.70" stroke="#111" stroke-width="0.96" fill="none"/><text x="0.45" y="0.00" font-size="9.6" text-anchor="middle">0</text><text x="5.90" y="-5.00" font-size="8.8" text-anchor="middle">2</text></g><g transform="translate(295.22,287.60)"><path d="M-5.75 0.00V-6.62" stroke="#111" stroke-width="1.25" fill="none"/><path d="M-5.75 -6.32L-7.38 -4.70" stroke="#111" stroke-width="0.96" fill="none"/><text x="0.45" y="0.00" font-size="9.6" text-anchor="middle">0</text><text x="5.90" y="-5.00" font-size="8.8" text-anchor="middle">3</text></g><g transform="translate(320.90,287.60)"><path d="M-5.75 0.00V-6.62" stroke="#111" stroke-width="1.25" fill="none"/><path d="M-5.75 -6.32L-7.38 -4.70" stroke="#111" stroke-width="0.96" fill="none"/><text x="0.45" y="0.00" font-size="9.6" text-anchor="middle">0</text><text x="5.90" y="-5.00" font-size="8.8" text-anchor="middle">4</text></g></g>
<g font-family='"Liberation Sans", sans-serif' fill="#111" stroke="#111" stroke-width="0.3"><g transform="translate(210.20,273.20) rotate(-90)"><path d="M-6.85 0.00V-6.62" stroke="#111" stroke-width="1.25" fill="none"/><path d="M-6.85 -6.32L-8.48 -4.70" stroke="#111" stroke-width="0.96" fill="none"/><text x="-1.80" y="0.00" font-size="9.6" text-anchor="middle">0</text><text x="5.30" y="-5.40" font-size="8.8" text-anchor="middle">0</text></g><g transform="translate(210.20,249.12) rotate(-90)"><path d="M-6.85 0.00V-6.62" stroke="#111" stroke-width="1.25" fill="none"/><path d="M-6.85 -6.32L-8.48 -4.70" stroke="#111" stroke-width="0.96" fill="none"/><text x="-1.80" y="0.00" font-size="9.6" text-anchor="middle">0</text><path d="M5.55 -5.40V-11.47" stroke="#111" stroke-width="1.14" fill="none"/><path d="M5.55 -11.17L4.05 -9.71" stroke="#111" stroke-width="0.88" fill="none"/></g><g transform="translate(210.20,225.05) rotate(-90)"><path d="M-6.85 0.00V-6.62" stroke="#111" stroke-width="1.25" fill="none"/><path d="M-6.85 -6.32L-8.48 -4.70" stroke="#111" stroke-width="0.96" fill="none"/><text x="-1.80" y="0.00" font-size="9.6" text-anchor="middle">0</text><text x="5.30" y="-5.40" font-size="8.8" text-anchor="middle">2</text></g><g transform="translate(210.20,200.97) rotate(-90)"><path d="M-6.85 0.00V-6.62" stroke="#111" stroke-width="1.25" fill="none"/><path d="M-6.85 -6.32L-8.48 -4.70" stroke="#111" stroke-width="0.96" fill="none"/><text x="-1.80" y="0.00" font-size="9.6" text-anchor="middle">0</text><text x="5.30" y="-5.40" font-size="8.8" text-anchor="middle">3</text></g><g transform="translate(210.20,176.90) rotate(-90)"><path d="M-6.85 0.00V-6.62" stroke="#111" stroke-width="1.25" fill="none"/><path d="M-6.85 -6.32L-8.48 -4.70" stroke="#111" stroke-width="0.96" fill="none"/><text x="-1.80" y="0.00" font-size="9.6" text-anchor="middle">0</text><text x="5.30" y="-5.40" font-size="8.8" text-anchor="middle">4</text></g></g>
<path d="M120.00 453.80L126.00 452.70L131.10 449.70L135.10 444.70L138.20 438.60L140.20 432.60L142.20 422.50L144.20 412.40L146.20 402.30L148.30 392.30L150.30 382.20L151.90 379.20L153.30 382.20L154.70 392.30L156.30 402.30L157.30 412.40L158.40 422.50L159.40 432.60L160.40 440.60L162.40 446.70L165.40 450.70L169.50 452.70L175.00 453.80Z" fill="url(#dots)" stroke="#111" stroke-width="1.3" stroke-linejoin="round"/>
<path d="M38.40 416.00L38.60 412.30L39.20 405.80L40.00 401.00L41.60 397.70L44.10 396.10L45.70 396.90L47.30 396.10L49.70 394.50L50.20 397.70L50.50 400.20L51.30 404.20L52.90 409.00L54.50 415.50L56.20 421.90L57.80 428.40L60.20 434.80L62.60 441.30L65.00 446.10L66.60 449.40L68.30 451.80" fill="none" stroke="#111" stroke-width="1.5" stroke-dasharray="2 1.6"/>
<path d="M37.00 451.83L38.14 454.32L39.41 452.30L40.74 454.26L41.80 451.97L42.81 454.16L44.22 451.90L45.26 454.10L46.85 452.48L47.87 454.33L49.42 453.06L50.23 454.37L51.55 451.91L52.64 453.91L53.63 451.94L54.50 454.77L55.40 453.19L56.61 454.30L57.55 451.61L58.64 454.67L59.59 451.97L61.12 454.65L61.95 451.90L62.94 453.92L64.14 452.15L65.22 454.08L66.38 452.72L67.91 454.70L69.29 453.18L70.61 454.44L72.10 453.19L73.35 454.43L74.89 451.60L76.19 454.60L77.19 452.83L78.34 454.59L79.30 451.93L80.61 454.53L82.21 452.91L83.47 454.66L84.96 451.74L85.97 454.12L87.43 452.79L88.49 454.36L90.01 453.01L91.35 454.26L92.51 452.26L94.02 454.61L95.53 452.65L96.95 454.02L97.90 451.74L99.49 454.53L100.31 453.10L101.89 454.79L103.42 453.03L104.81 454.71L105.75 452.07L106.62 454.49L108.15 452.01L109.66 453.92L110.48 452.88L111.92 454.18L112.75 452.39L113.73 454.41L114.62 453.26L116.21 454.52L117.71 453.08L118.90 454.68L120.05 452.98L121.39 454.67L122.78 452.40L123.67 454.48L124.87 451.65L125.95 454.61L127.52 451.71" fill="none" stroke="#111" stroke-width="0.9"/>
<path d="M228.00 454.00L233.90 453.60L239.20 452.80L243.40 451.30L247.60 449.20L249.80 443.90L250.80 435.40L251.90 422.70L252.90 410.00L254.00 397.30L255.10 386.80L256.10 376.20L257.20 365.60L258.60 360.30L259.60 361.50L261.40 365.60L262.50 376.20L263.50 386.80L264.60 397.30L265.60 410.00L267.30 422.70L268.80 435.40L272.00 443.90L276.20 449.20L282.60 452.00L288.90 453.40L295.00 454.00Z" fill="url(#dots)" stroke="#111" stroke-width="1.3" stroke-linejoin="round"/>
<path d="M204.40 402.00L204.40 392.00L205.30 384.60L207.50 382.00L209.50 379.30L210.60 386.80L211.60 391.00L213.80 401.60L215.90 414.30L218.00 427.00L221.20 435.40L225.40 441.80L228.60 448.10L231.80 452.40" fill="none" stroke="#111" stroke-width="1.5" stroke-dasharray="2 1.6"/>
<path d="M202.20 453.31L203.14 455.06L204.00 453.72L205.20 454.93L206.45 453.15L207.26 454.68L208.58 452.82L209.82 454.68L211.41 452.23L212.78 454.94L213.83 453.05L215.41 454.95L216.52 453.06L217.44 454.40L218.24 452.71L219.78 455.07L221.07 453.12L222.06 455.12L222.95 452.28L224.38 454.48L225.22 452.55L226.28 454.72L227.52 453.23L229.10 455.30L230.49 452.26L231.70 454.77L233.30 453.38L234.60 454.63L235.70 452.52L236.82 454.83L238.11 452.58L239.17 454.73L240.40 453.40L241.69 455.06L243.22 452.95L244.60 454.83L245.78 453.40" fill="none" stroke="#111" stroke-width="0.9"/>
<path d="M366.70 453.60L369.40 452.00L373.10 449.80L376.70 446.20L380.30 440.80L382.10 433.50L384.00 424.40L385.40 415.40L386.70 406.30L388.50 397.20L390.30 388.10L391.20 380.00L392.70 378.20L393.90 380.00L395.20 388.10L396.70 397.20L398.50 406.30L399.90 415.40L401.20 424.40L403.00 433.50L405.40 440.80L408.40 446.20L413.00 449.80L418.40 451.70L427.50 453.10L436.60 453.80L443.80 454.40L455.00 454.60Z" fill="url(#dots)" stroke="#111" stroke-width="1.3" stroke-linejoin="round"/>
<path d="M367.80 414.00L367.80 400.00L368.00 388.00L369.40 383.60L372.20 380.90L373.40 380.00L374.90 386.30L376.70 393.60L378.50 402.70L380.30 413.50L381.20 422.60L382.10 429.90" fill="none" stroke="#111" stroke-width="1.5" stroke-dasharray="2 1.6"/>
<path d="M365.70 452.13L366.92 454.83L368.14 452.34L369.14 455.14L370.59 452.97L371.91 454.56L373.42 452.24L374.26 454.96L375.72 452.33L376.62 455.16L377.62 453.61L378.71 454.58L379.92 452.98L380.79 454.94L382.39 452.55L383.55 454.87L384.99 452.43L385.91 454.69L387.00 452.86L387.99 454.97L389.07 453.11L389.88 455.12L391.14 453.70L392.08 454.65L393.10 453.22L394.09 454.55L394.96 452.65L396.45 455.12L397.59 452.37L398.88 454.97L399.72 453.00L400.81 454.66L401.85 453.07L403.17 454.57L404.25 453.11L405.51 454.47L406.47 452.05L407.84 454.96L409.17 453.21L410.02 454.62L411.13 452.85L412.33 454.49L413.73 453.75L415.01 454.88L416.18 452.29L417.31 454.87L418.82 453.01L420.01 454.84L421.47 452.59L422.86 454.94L423.70 452.58L424.94 454.61L426.36 453.59L427.33 455.23L428.79 453.62L429.66 454.62L430.91 453.70L432.25 454.66L433.44 453.70L434.79 454.92L436.06 452.00L437.51 454.52L438.43 453.20L439.64 455.29L441.24 453.31L442.25 455.02L443.25 452.25L444.49 454.84L445.63 453.71L446.67 454.52L448.11 452.26L449.12 455.12L449.96 452.83L451.06 454.88L452.25 452.75L453.35 454.58L454.31 452.15L455.55 455.25L456.60 452.84L457.73 454.79L458.79 453.31L460.22 455.04L461.59 452.36L462.87 454.89L464.41 453.00L465.92 455.25L467.06 452.65L467.90 454.52L468.76 452.73L469.70 454.47" fill="none" stroke="#111" stroke-width="0.9"/>
<g stroke="#111" stroke-width="1.15" fill="none"><line x1="32.00" y1="454.50" x2="37.00" y2="454.50"/><line x1="34.40" y1="449.12" x2="37.00" y2="449.12"/><line x1="34.40" y1="443.74" x2="37.00" y2="443.74"/><line x1="34.40" y1="438.36" x2="37.00" y2="438.36"/><line x1="32.00" y1="432.98" x2="37.00" y2="432.98"/><line x1="34.40" y1="427.60" x2="37.00" y2="427.60"/><line x1="34.40" y1="422.22" x2="37.00" y2="422.22"/><line x1="34.40" y1="416.84" x2="37.00" y2="416.84"/><line x1="32.00" y1="411.46" x2="37.00" y2="411.46"/><line x1="34.40" y1="406.08" x2="37.00" y2="406.08"/><line x1="34.40" y1="400.70" x2="37.00" y2="400.70"/><line x1="34.40" y1="395.32" x2="37.00" y2="395.32"/><line x1="32.00" y1="389.94" x2="37.00" y2="389.94"/><line x1="34.40" y1="384.56" x2="37.00" y2="384.56"/><line x1="34.40" y1="379.18" x2="37.00" y2="379.18"/><line x1="34.40" y1="373.80" x2="37.00" y2="373.80"/><line x1="32.00" y1="368.42" x2="37.00" y2="368.42"/><line x1="34.40" y1="363.04" x2="37.00" y2="363.04"/><line x1="34.40" y1="357.66" x2="37.00" y2="357.66"/><line x1="34.40" y1="352.28" x2="37.00" y2="352.28"/><line x1="32.00" y1="346.90" x2="37.00" y2="346.90"/><line x1="37.00" y1="454.50" x2="37.00" y2="459.70"/><line x1="48.12" y1="454.50" x2="48.12" y2="457.50"/><line x1="54.62" y1="454.50" x2="54.62" y2="457.50"/><line x1="59.23" y1="454.50" x2="59.23" y2="457.50"/><line x1="62.81" y1="454.50" x2="62.81" y2="457.50"/><line x1="65.73" y1="454.50" x2="65.73" y2="457.50"/><line x1="68.21" y1="454.50" x2="68.21" y2="457.50"/><line x1="70.35" y1="454.50" x2="70.35" y2="457.50"/><line x1="72.24" y1="454.50" x2="72.24" y2="457.50"/><line x1="73.92" y1="454.50" x2="73.92" y2="459.70"/><line x1="85.04" y1="454.50" x2="85.04" y2="457.50"/><line x1="91.54" y1="454.50" x2="91.54" y2="457.50"/><line x1="96.16" y1="454.50" x2="96.16" y2="457.50"/><line x1="99.73" y1="454.50" x2="99.73" y2="457.50"/><line x1="102.66" y1="454.50" x2="102.66" y2="457.50"/><line x1="105.13" y1="454.50" x2="105.13" y2="457.50"/><line x1="107.27" y1="454.50" x2="107.27" y2="457.50"/><line x1="109.16" y1="454.50" x2="109.16" y2="457.50"/><line x1="110.85" y1="454.50" x2="110.85" y2="459.70"/><line x1="121.97" y1="454.50" x2="121.97" y2="457.50"/><line x1="128.47" y1="454.50" x2="128.47" y2="457.50"/><line x1="133.08" y1="454.50" x2="133.08" y2="457.50"/><line x1="136.66" y1="454.50" x2="136.66" y2="457.50"/><line x1="139.58" y1="454.50" x2="139.58" y2="457.50"/><line x1="142.06" y1="454.50" x2="142.06" y2="457.50"/><line x1="144.20" y1="454.50" x2="144.20" y2="457.50"/><line x1="146.09" y1="454.50" x2="146.09" y2="457.50"/><line x1="147.77" y1="454.50" x2="147.77" y2="459.70"/><line x1="158.89" y1="454.50" x2="158.89" y2="457.50"/><line x1="165.39" y1="454.50" x2="165.39" y2="457.50"/><line x1="170.01" y1="454.50" x2="170.01" y2="457.50"/><line x1="173.58" y1="454.50" x2="173.58" y2="457.50"/><line x1="176.51" y1="454.50" x2="176.51" y2="457.50"/><line x1="178.98" y1="454.50" x2="178.98" y2="457.50"/><line x1="181.12" y1="454.50" x2="181.12" y2="457.50"/><line x1="183.01" y1="454.50" x2="183.01" y2="457.50"/><line x1="184.70" y1="454.50" x2="184.70" y2="459.70"/><rect x="37.00" y="346.90" width="147.70" height="107.60" fill="none"/></g>
<g font-family='"Liberation Sans", sans-serif' fill="#111" stroke="#111" stroke-width="0.3"><g transform="translate(37.00,470.50)"><path d="M-5.95 0.00V-6.62" stroke="#111" stroke-width="1.25" fill="none"/><path d="M-5.95 -6.32L-7.58 -4.70" stroke="#111" stroke-width="0.96" fill="none"/><text x="0.10" y="0.00" font-size="9.6" text-anchor="middle">0</text><text x="5.80" y="-5.20" font-size="8.8" text-anchor="middle">0</text></g><g transform="translate(73.92,470.50)"><path d="M-5.95 0.00V-6.62" stroke="#111" stroke-width="1.25" fill="none"/><path d="M-5.95 -6.32L-7.58 -4.70" stroke="#111" stroke-width="0.96" fill="none"/><text x="0.10" y="0.00" font-size="9.6" text-anchor="middle">0</text><path d="M6.05 -5.20V-11.27" stroke="#111" stroke-width="1.14" fill="none"/><path d="M6.05 -10.97L4.55 -9.51" stroke="#111" stroke-width="0.88" fill="none"/></g><g transform="translate(110.85,470.50)"><path d="M-5.95 0.00V-6.62" stroke="#111" stroke-width="1.25" fill="none"/><path d="M-5.95 -6.32L-7.58 -4.70" stroke="#111" stroke-width="0.96" fill="none"/><text x="0.10" y="0.00" font-size="9.6" text-anchor="middle">0</text><text x="5.80" y="-5.20" font-size="8.8" text-anchor="middle">2</text></g><g transform="translate(147.77,470.50)"><path d="M-5.95 0.00V-6.62" stroke="#111" stroke-width="1.25" fill="none"/><path d="M-5.95 -6.32L-7.58 -4.70" stroke="#111" stroke-width="0.96" fill="none"/><text x="0.10" y="0.00" font-size="9.6" text-anchor="middle">0</text><text x="5.80" y="-5.20" font-size="8.8" text-anchor="middle">3</text></g><g transform="translate(184.70,470.50)"><path d="M-5.95 0.00V-6.62" stroke="#111" stroke-width="1.25" fill="none"/><path d="M-5.95 -6.32L-7.58 -4.70" stroke="#111" stroke-width="0.96" fill="none"/><text x="0.10" y="0.00" font-size="9.6" text-anchor="middle">0</text><text x="5.80" y="-5.20" font-size="8.8" text-anchor="middle">4</text></g></g>
<g font-family='"Liberation Sans", sans-serif' font-size="10" fill="#111" stroke="#111" stroke-width="0.3"><text text-anchor="middle" transform="translate(29.10,454.50) rotate(-90)">0</text><text text-anchor="middle" transform="translate(29.10,432.98) rotate(-90)">40</text><text text-anchor="middle" transform="translate(29.10,411.46) rotate(-90)">80</text><text text-anchor="middle" transform="translate(29.10,389.94) rotate(-90)">120</text><text text-anchor="middle" transform="translate(29.10,368.42) rotate(-90)">160</text><text text-anchor="middle" transform="translate(29.10,346.90) rotate(-90)">200</text></g>
<g stroke="#111" stroke-width="1.15" fill="none"><line x1="197.20" y1="455.00" x2="202.20" y2="455.00"/><line x1="199.60" y1="449.60" x2="202.20" y2="449.60"/><line x1="199.60" y1="444.19" x2="202.20" y2="444.19"/><line x1="199.60" y1="438.78" x2="202.20" y2="438.78"/><line x1="197.20" y1="433.38" x2="202.20" y2="433.38"/><line x1="199.60" y1="427.98" x2="202.20" y2="427.98"/><line x1="199.60" y1="422.57" x2="202.20" y2="422.57"/><line x1="199.60" y1="417.16" x2="202.20" y2="417.16"/><line x1="197.20" y1="411.76" x2="202.20" y2="411.76"/><line x1="199.60" y1="406.36" x2="202.20" y2="406.36"/><line x1="199.60" y1="400.95" x2="202.20" y2="400.95"/><line x1="199.60" y1="395.54" x2="202.20" y2="395.54"/><line x1="197.20" y1="390.14" x2="202.20" y2="390.14"/><line x1="199.60" y1="384.74" x2="202.20" y2="384.74"/><line x1="199.60" y1="379.33" x2="202.20" y2="379.33"/><line x1="199.60" y1="373.92" x2="202.20" y2="373.92"/><line x1="197.20" y1="368.52" x2="202.20" y2="368.52"/><line x1="199.60" y1="363.12" x2="202.20" y2="363.12"/><line x1="199.60" y1="357.71" x2="202.20" y2="357.71"/><line x1="199.60" y1="352.30" x2="202.20" y2="352.30"/><line x1="197.20" y1="346.90" x2="202.20" y2="346.90"/><line x1="202.20" y1="455.00" x2="202.20" y2="460.20"/><line x1="213.17" y1="455.00" x2="213.17" y2="458.00"/><line x1="219.58" y1="455.00" x2="219.58" y2="458.00"/><line x1="224.13" y1="455.00" x2="224.13" y2="458.00"/><line x1="227.66" y1="455.00" x2="227.66" y2="458.00"/><line x1="230.54" y1="455.00" x2="230.54" y2="458.00"/><line x1="232.98" y1="455.00" x2="232.98" y2="458.00"/><line x1="235.10" y1="455.00" x2="235.10" y2="458.00"/><line x1="236.96" y1="455.00" x2="236.96" y2="458.00"/><line x1="238.62" y1="455.00" x2="238.62" y2="460.20"/><line x1="249.59" y1="455.00" x2="249.59" y2="458.00"/><line x1="256.00" y1="455.00" x2="256.00" y2="458.00"/><line x1="260.56" y1="455.00" x2="260.56" y2="458.00"/><line x1="264.08" y1="455.00" x2="264.08" y2="458.00"/><line x1="266.97" y1="455.00" x2="266.97" y2="458.00"/><line x1="269.41" y1="455.00" x2="269.41" y2="458.00"/><line x1="271.52" y1="455.00" x2="271.52" y2="458.00"/><line x1="273.38" y1="455.00" x2="273.38" y2="458.00"/><line x1="275.05" y1="455.00" x2="275.05" y2="460.20"/><line x1="286.02" y1="455.00" x2="286.02" y2="458.00"/><line x1="292.43" y1="455.00" x2="292.43" y2="458.00"/><line x1="296.98" y1="455.00" x2="296.98" y2="458.00"/><line x1="300.51" y1="455.00" x2="300.51" y2="458.00"/><line x1="303.39" y1="455.00" x2="303.39" y2="458.00"/><line x1="305.83" y1="455.00" x2="305.83" y2="458.00"/><line x1="307.95" y1="455.00" x2="307.95" y2="458.00"/><line x1="309.81" y1="455.00" x2="309.81" y2="458.00"/><line x1="311.47" y1="455.00" x2="311.47" y2="460.20"/><line x1="322.44" y1="455.00" x2="322.44" y2="458.00"/><line x1="328.85" y1="455.00" x2="328.85" y2="458.00"/><line x1="333.41" y1="455.00" x2="333.41" y2="458.00"/><line x1="336.93" y1="455.00" x2="336.93" y2="458.00"/><line x1="339.82" y1="455.00" x2="339.82" y2="458.00"/><line x1="342.26" y1="455.00" x2="342.26" y2="458.00"/><line x1="344.37" y1="455.00" x2="344.37" y2="458.00"/><line x1="346.23" y1="455.00" x2="346.23" y2="458.00"/><line x1="347.90" y1="455.00" x2="347.90" y2="460.20"/><rect x="202.20" y="346.90" width="145.70" height="108.10" fill="none"/></g>
<g font-family='"Liberation Sans", sans-serif' fill="#111" stroke="#111" stroke-width="0.3"><g transform="translate(202.20,471.00)"><path d="M-5.95 0.00V-6.62" stroke="#111" stroke-width="1.25" fill="none"/><path d="M-5.95 -6.32L-7.58 -4.70" stroke="#111" stroke-width="0.96" fill="none"/><text x="0.10" y="0.00" font-size="9.6" text-anchor="middle">0</text><text x="5.80" y="-5.20" font-size="8.8" text-anchor="middle">0</text></g><g transform="translate(238.62,471.00)"><path d="M-5.95 0.00V-6.62" stroke="#111" stroke-width="1.25" fill="none"/><path d="M-5.95 -6.32L-7.58 -4.70" stroke="#111" stroke-width="0.96" fill="none"/><text x="0.10" y="0.00" font-size="9.6" text-anchor="middle">0</text><path d="M6.05 -5.20V-11.27" stroke="#111" stroke-width="1.14" fill="none"/><path d="M6.05 -10.97L4.55 -9.51" stroke="#111" stroke-width="0.88" fill="none"/></g><g transform="translate(275.05,471.00)"><path d="M-5.95 0.00V-6.62" stroke="#111" stroke-width="1.25" fill="none"/><path d="M-5.95 -6.32L-7.58 -4.70" stroke="#111" stroke-width="0.96" fill="none"/><text x="0.10" y="0.00" font-size="9.6" text-anchor="middle">0</text><text x="5.80" y="-5.20" font-size="8.8" text-anchor="middle">2</text></g><g transform="translate(311.47,471.00)"><path d="M-5.95 0.00V-6.62" stroke="#111" stroke-width="1.25" fill="none"/><path d="M-5.95 -6.32L-7.58 -4.70" stroke="#111" stroke-width="0.96" fill="none"/><text x="0.10" y="0.00" font-size="9.6" text-anchor="middle">0</text><text x="5.80" y="-5.20" font-size="8.8" text-anchor="middle">3</text></g><g transform="translate(347.90,471.00)"><path d="M-5.95 0.00V-6.62" stroke="#111" stroke-width="1.25" fill="none"/><path d="M-5.95 -6.32L-7.58 -4.70" stroke="#111" stroke-width="0.96" fill="none"/><text x="0.10" y="0.00" font-size="9.6" text-anchor="middle">0</text><text x="5.80" y="-5.20" font-size="8.8" text-anchor="middle">4</text></g></g>
<g stroke="#111" stroke-width="1.15" fill="none"><line x1="360.70" y1="455.00" x2="365.70" y2="455.00"/><line x1="363.10" y1="449.61" x2="365.70" y2="449.61"/><line x1="363.10" y1="444.21" x2="365.70" y2="444.21"/><line x1="363.10" y1="438.81" x2="365.70" y2="438.81"/><line x1="360.70" y1="433.42" x2="365.70" y2="433.42"/><line x1="363.10" y1="428.02" x2="365.70" y2="428.02"/><line x1="363.10" y1="422.63" x2="365.70" y2="422.63"/><line x1="363.10" y1="417.24" x2="365.70" y2="417.24"/><line x1="360.70" y1="411.84" x2="365.70" y2="411.84"/><line x1="363.10" y1="406.44" x2="365.70" y2="406.44"/><line x1="363.10" y1="401.05" x2="365.70" y2="401.05"/><line x1="363.10" y1="395.66" x2="365.70" y2="395.66"/><line x1="360.70" y1="390.26" x2="365.70" y2="390.26"/><line x1="363.10" y1="384.87" x2="365.70" y2="384.87"/><line x1="363.10" y1="379.47" x2="365.70" y2="379.47"/><line x1="363.10" y1="374.08" x2="365.70" y2="374.08"/><line x1="360.70" y1="368.68" x2="365.70" y2="368.68"/><line x1="363.10" y1="363.29" x2="365.70" y2="363.29"/><line x1="363.10" y1="357.89" x2="365.70" y2="357.89"/><line x1="363.10" y1="352.50" x2="365.70" y2="352.50"/><line x1="360.70" y1="347.10" x2="365.70" y2="347.10"/><line x1="365.70" y1="455.00" x2="365.70" y2="460.20"/><line x1="376.66" y1="455.00" x2="376.66" y2="458.00"/><line x1="383.07" y1="455.00" x2="383.07" y2="458.00"/><line x1="387.61" y1="455.00" x2="387.61" y2="458.00"/><line x1="391.14" y1="455.00" x2="391.14" y2="458.00"/><line x1="394.02" y1="455.00" x2="394.02" y2="458.00"/><line x1="396.46" y1="455.00" x2="396.46" y2="458.00"/><line x1="398.57" y1="455.00" x2="398.57" y2="458.00"/><line x1="400.43" y1="455.00" x2="400.43" y2="458.00"/><line x1="402.10" y1="455.00" x2="402.10" y2="460.20"/><line x1="413.06" y1="455.00" x2="413.06" y2="458.00"/><line x1="419.47" y1="455.00" x2="419.47" y2="458.00"/><line x1="424.01" y1="455.00" x2="424.01" y2="458.00"/><line x1="427.54" y1="455.00" x2="427.54" y2="458.00"/><line x1="430.42" y1="455.00" x2="430.42" y2="458.00"/><line x1="432.86" y1="455.00" x2="432.86" y2="458.00"/><line x1="434.97" y1="455.00" x2="434.97" y2="458.00"/><line x1="436.83" y1="455.00" x2="436.83" y2="458.00"/><line x1="438.50" y1="455.00" x2="438.50" y2="460.20"/><line x1="449.46" y1="455.00" x2="449.46" y2="458.00"/><line x1="455.87" y1="455.00" x2="455.87" y2="458.00"/><line x1="460.41" y1="455.00" x2="460.41" y2="458.00"/><line x1="463.94" y1="455.00" x2="463.94" y2="458.00"/><line x1="466.82" y1="455.00" x2="466.82" y2="458.00"/><line x1="469.26" y1="455.00" x2="469.26" y2="458.00"/><line x1="471.37" y1="455.00" x2="471.37" y2="458.00"/><line x1="473.23" y1="455.00" x2="473.23" y2="458.00"/><line x1="474.90" y1="455.00" x2="474.90" y2="460.20"/><line x1="485.86" y1="455.00" x2="485.86" y2="458.00"/><line x1="492.27" y1="455.00" x2="492.27" y2="458.00"/><line x1="496.81" y1="455.00" x2="496.81" y2="458.00"/><line x1="500.34" y1="455.00" x2="500.34" y2="458.00"/><line x1="503.22" y1="455.00" x2="503.22" y2="458.00"/><line x1="505.66" y1="455.00" x2="505.66" y2="458.00"/><line x1="507.77" y1="455.00" x2="507.77" y2="458.00"/><line x1="509.63" y1="455.00" x2="509.63" y2="458.00"/><line x1="511.30" y1="455.00" x2="511.30" y2="460.20"/><rect x="365.70" y="347.10" width="145.60" height="107.90" fill="none"/></g>
<g font-family='"Liberation Sans", sans-serif' fill="#111" stroke="#111" stroke-width="0.3"><g transform="translate(365.70,471.00)"><path d="M-5.95 0.00V-6.62" stroke="#111" stroke-width="1.25" fill="none"/><path d="M-5.95 -6.32L-7.58 -4.70" stroke="#111" stroke-width="0.96" fill="none"/><text x="0.10" y="0.00" font-size="9.6" text-anchor="middle">0</text><text x="5.80" y="-5.20" font-size="8.8" text-anchor="middle">0</text></g><g transform="translate(402.10,471.00)"><path d="M-5.95 0.00V-6.62" stroke="#111" stroke-width="1.25" fill="none"/><path d="M-5.95 -6.32L-7.58 -4.70" stroke="#111" stroke-width="0.96" fill="none"/><text x="0.10" y="0.00" font-size="9.6" text-anchor="middle">0</text><path d="M6.05 -5.20V-11.27" stroke="#111" stroke-width="1.14" fill="none"/><path d="M6.05 -10.97L4.55 -9.51" stroke="#111" stroke-width="0.88" fill="none"/></g><g transform="translate(438.50,471.00)"><path d="M-5.95 0.00V-6.62" stroke="#111" stroke-width="1.25" fill="none"/><path d="M-5.95 -6.32L-7.58 -4.70" stroke="#111" stroke-width="0.96" fill="none"/><text x="0.10" y="0.00" font-size="9.6" text-anchor="middle">0</text><text x="5.80" y="-5.20" font-size="8.8" text-anchor="middle">2</text></g><g transform="translate(474.90,471.00)"><path d="M-5.95 0.00V-6.62" stroke="#111" stroke-width="1.25" fill="none"/><path d="M-5.95 -6.32L-7.58 -4.70" stroke="#111" stroke-width="0.96" fill="none"/><text x="0.10" y="0.00" font-size="9.6" text-anchor="middle">0</text><text x="5.80" y="-5.20" font-size="8.8" text-anchor="middle">3</text></g><g transform="translate(511.30,471.00)"><path d="M-5.95 0.00V-6.62" stroke="#111" stroke-width="1.25" fill="none"/><path d="M-5.95 -6.32L-7.58 -4.70" stroke="#111" stroke-width="0.96" fill="none"/><text x="0.10" y="0.00" font-size="9.6" text-anchor="middle">0</text><text x="5.80" y="-5.20" font-size="8.8" text-anchor="middle">4</text></g></g>
<rect x="64.2" y="72.2" width="1.4" height="1.6" fill="#555"/>
<rect x="64.2" y="83.3" width="1.4" height="4.3" fill="#555"/>
<rect x="64.2" y="90.6" width="1.4" height="2.0" fill="#555"/>
<rect x="198.2" y="224.0" width="1.6" height="5.0" fill="#555"/>
<rect x="198.2" y="230.5" width="1.6" height="3.5" fill="#555"/>
<rect x="198.6" y="213.6" width="0.9" height="0.9" fill="#555"/>
<text x="33.47" y="18.80" font-family='"Liberation Sans", sans-serif' font-weight="bold" font-size="25.15" textLength="17.57" lengthAdjust="spacingAndGlyphs" fill="#111" >A</text>
<text x="33.78" y="330.40" font-family='"Liberation Sans", sans-serif' font-weight="bold" font-size="25.15" textLength="17.76" lengthAdjust="spacingAndGlyphs" fill="#111" >B</text>
<g transform="rotate(-90)"><text x="-110.02" y="55.27" font-family='"Liberation Sans", sans-serif' font-weight="bold" font-size="19.30" textLength="44.04" lengthAdjust="spacingAndGlyphs" fill="#111" >CD34</text></g>
<g transform="rotate(-90)"><text x="-252.06" y="56.56" font-family='"Liberation Sans", sans-serif' font-weight="bold" font-size="20.28" textLength="46.08" lengthAdjust="spacingAndGlyphs" fill="#111" >CD34</text></g>
<text x="119.99" y="161.70" font-family='"Liberation Serif", serif' font-weight="normal" font-size="19.92" textLength="11.18" lengthAdjust="spacingAndGlyphs" fill="#111" >α</text>
<text x="131.13" y="161.48" font-family='"Liberation Sans", sans-serif' font-weight="bold" font-size="18.03" textLength="10.82" lengthAdjust="spacingAndGlyphs" fill="#111" >3</text>
<text x="253.81" y="161.31" font-family='"Liberation Serif", serif' font-weight="normal" font-size="19.09" textLength="10.84" lengthAdjust="spacingAndGlyphs" fill="#111" >α</text>
<text x="264.75" y="161.50" font-family='"Liberation Sans", sans-serif' font-weight="bold" font-size="17.88" textLength="8.85" lengthAdjust="spacingAndGlyphs" fill="#111" >4</text>
<text x="386.91" y="162.10" font-family='"Liberation Serif", serif' font-weight="normal" font-size="19.92" textLength="10.84" lengthAdjust="spacingAndGlyphs" fill="#111" >α</text>
<text x="397.51" y="162.12" font-family='"Liberation Sans", sans-serif' font-weight="bold" font-size="18.19" textLength="10.32" lengthAdjust="spacingAndGlyphs" fill="#111" >5</text>
<text x="119.21" y="305.60" font-family='"Liberation Serif", serif' font-weight="normal" font-size="19.92" textLength="10.84" lengthAdjust="spacingAndGlyphs" fill="#111" >α</text>
<text x="130.33" y="305.80" font-family='"Liberation Sans", sans-serif' font-weight="bold" font-size="18.18" textLength="9.34" lengthAdjust="spacingAndGlyphs" fill="#111" >v</text>
<text x="256.76" y="307.17" font-family='"Liberation Serif", serif' font-weight="normal" font-size="19.00" textLength="10.63" lengthAdjust="spacingAndGlyphs" fill="#111" >β</text>
<text x="266.44" y="307.30" font-family='"Liberation Sans", sans-serif' font-weight="bold" font-size="18.46" textLength="7.76" lengthAdjust="spacingAndGlyphs" fill="#111" >1</text>
<text x="309.58" y="368.29" font-family='"Liberation Serif", serif' font-weight="normal" font-size="20.75" textLength="11.29" lengthAdjust="spacingAndGlyphs" fill="#111" >α</text>
<text x="320.95" y="368.50" font-family='"Liberation Sans", sans-serif' font-weight="bold" font-size="18.46" textLength="8.75" lengthAdjust="spacingAndGlyphs" fill="#111" >4</text>
<text x="467.68" y="368.59" font-family='"Liberation Serif", serif' font-weight="normal" font-size="20.75" textLength="11.29" lengthAdjust="spacingAndGlyphs" fill="#111" >α</text>
<text x="478.58" y="368.62" font-family='"Liberation Sans", sans-serif' font-weight="bold" font-size="17.62" textLength="10.76" lengthAdjust="spacingAndGlyphs" fill="#111" >5</text>
<text x="127.36" y="367.29" font-family='"Liberation Sans", sans-serif' font-weight="bold" font-size="17.89" textLength="45.26" lengthAdjust="spacingAndGlyphs" fill="#111" >CD34</text>
<text x="181.80" y="491.50" font-family='"Liberation Sans", sans-serif' font-weight="bold" font-size="13.20" textLength="177.48" lengthAdjust="spacingAndGlyphs" fill="#111">Log Fluorescence Intensity</text>
<g transform="rotate(-90)"><text x="-458.79" y="9.78" font-family='"Liberation Sans", sans-serif' font-weight="bold" font-size="11.58" textLength="119.78" lengthAdjust="spacingAndGlyphs" fill="#111" >Relative Cell Number</text></g>
</svg></body></html>
